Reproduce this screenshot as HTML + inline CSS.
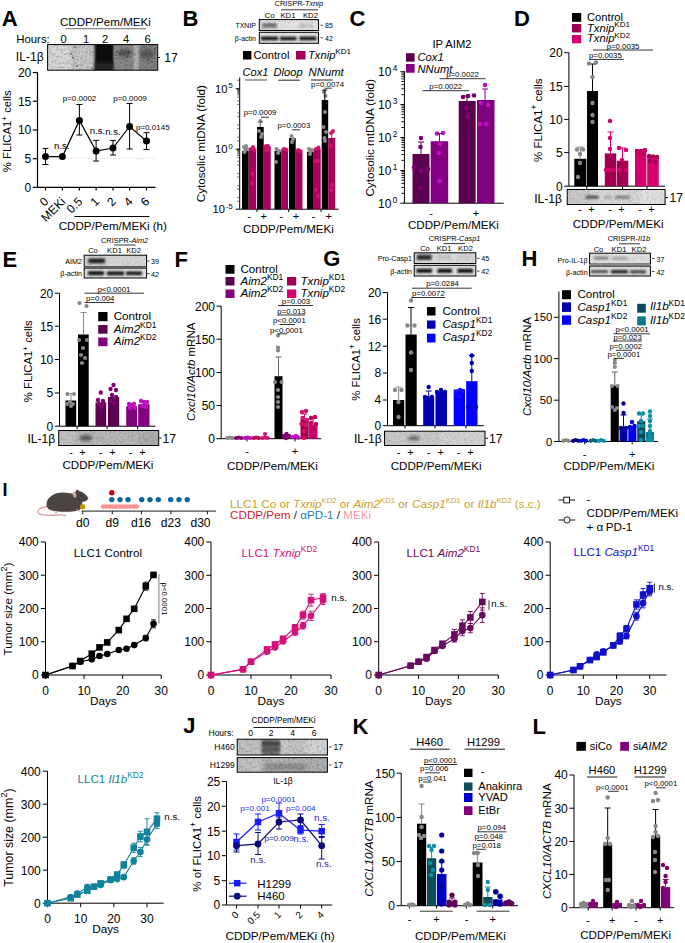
<!DOCTYPE html>
<html><head><meta charset="utf-8"><style>
html,body{margin:0;padding:0;background:#fff;width:685px;height:943px;overflow:hidden}
svg{display:block;font-family:"Liberation Sans", sans-serif}
</style></head><body>
<svg width="685" height="943" viewBox="0 0 685 943">
<defs><filter id="bl" x="-50%" y="-50%" width="200%" height="200%"><feGaussianBlur stdDeviation="1.6"/></filter>
<filter id="bl2" x="-50%" y="-50%" width="200%" height="200%"><feGaussianBlur stdDeviation="0.8"/></filter>
<filter id="nz" x="0" y="0" width="100%" height="100%"><feTurbulence type="fractalNoise" baseFrequency="0.45" numOctaves="2" seed="7"/><feColorMatrix type="matrix" values="0 0 0 0 0  0 0 0 0 0  0 0 0 0 0  0 0 0 -3 1.6"/></filter></defs>
<rect width="685" height="943" fill="#fff"/>
<text x="1.75" y="26.20" font-size="22" font-weight="bold">A</text>
<text x="60.00" y="25.70" font-size="11.6">CDDP/Pem/MEKi</text>
<line x1="65.50" y1="28.70" x2="146.00" y2="28.70" stroke="#888" stroke-width="1.3"/>
<text x="16.20" y="42.50" font-size="11.4">Hours:</text>
<text x="63.70" y="42.50" font-size="11.2" text-anchor="middle">0</text>
<text x="86.00" y="42.50" font-size="11.2" text-anchor="middle">1</text>
<text x="105.00" y="42.50" font-size="11.2" text-anchor="middle">2</text>
<text x="126.00" y="42.50" font-size="11.2" text-anchor="middle">4</text>
<text x="147.50" y="42.50" font-size="11.2" text-anchor="middle">6</text>
<svg x="47.60" y="44.60" width="110.10" height="25.60" overflow="hidden">
<rect x="0.00" y="0.00" width="110.10" height="25.60" fill="#d6d6d6"/>
<rect x="24.70" y="-0.60" width="22.20" height="27.00" fill="#c6c6c6" opacity="1" filter="url(#bl2)"/>
<rect x="46.90" y="-1.60" width="19.70" height="29.00" fill="#111" opacity="1" filter="url(#bl2)"/>
<rect x="66.60" y="-1.60" width="20.50" height="29.00" fill="#888" opacity="1" filter="url(#bl2)"/>
<rect x="90.40" y="-1.60" width="20.00" height="29.00" fill="#808080" opacity="1" filter="url(#bl2)"/>
<rect x="87.10" y="-1.60" width="3.30" height="29.00" fill="#aaa" opacity="1" filter="url(#bl2)"/>
<rect x="24.40" y="-1.60" width="1.50" height="29.00" fill="#aaa" opacity="0.6" filter="url(#bl2)"/>
<rect x="46.90" y="17.40" width="19.70" height="10.00" fill="#333" opacity="0.6" filter="url(#bl2)"/>
<ellipse cx="77.40" cy="8.40" rx="7.00" ry="4.00" fill="#333" opacity="0.6" filter="url(#bl)"/>
<ellipse cx="99.40" cy="9.40" rx="7.00" ry="5.00" fill="#333" opacity="0.5" filter="url(#bl)"/>
<rect width="110.10" height="25.60" filter="url(#nz)" opacity="0.22"/>
</svg>
<rect x="47.60" y="44.60" width="110.10" height="25.60" fill="none" stroke="#000" stroke-width="1"/>
<circle cx="75.00" cy="47.00" r="0.7" fill="#222"/>
<circle cx="71.00" cy="54.00" r="0.7" fill="#222"/>
<circle cx="73.00" cy="58.00" r="0.7" fill="#222"/>
<circle cx="77.00" cy="66.00" r="0.7" fill="#222"/>
<circle cx="92.00" cy="68.00" r="0.7" fill="#222"/>
<circle cx="116.00" cy="52.00" r="0.7" fill="#222"/>
<circle cx="116.00" cy="55.00" r="0.7" fill="#222"/>
<circle cx="120.00" cy="54.00" r="0.7" fill="#222"/>
<circle cx="129.00" cy="52.00" r="0.7" fill="#222"/>
<circle cx="127.00" cy="57.00" r="0.7" fill="#222"/>
<circle cx="144.00" cy="47.00" r="0.7" fill="#222"/>
<circle cx="148.00" cy="60.00" r="0.7" fill="#222"/>
<circle cx="152.00" cy="62.00" r="0.7" fill="#222"/>
<circle cx="155.00" cy="49.00" r="0.7" fill="#222"/>
<text x="15.80" y="60.60" font-size="12.1">IL-1β</text>
<line x1="157.60" y1="57.50" x2="160.00" y2="57.50" stroke="#000" stroke-width="1"/>
<text x="164.30" y="61.80" font-size="12.2">17</text>
<line x1="37.50" y1="72.50" x2="37.50" y2="187.30" stroke="#000" stroke-width="1.2"/>
<line x1="32.80" y1="72.50" x2="37.50" y2="72.50" stroke="#000" stroke-width="1.2"/>
<text x="31.30" y="76.82" font-size="12" text-anchor="end">20</text>
<line x1="32.80" y1="101.20" x2="37.50" y2="101.20" stroke="#000" stroke-width="1.2"/>
<text x="31.30" y="105.52" font-size="12" text-anchor="end">15</text>
<line x1="32.80" y1="130.00" x2="37.50" y2="130.00" stroke="#000" stroke-width="1.2"/>
<text x="31.30" y="134.32" font-size="12" text-anchor="end">10</text>
<line x1="32.80" y1="158.70" x2="37.50" y2="158.70" stroke="#000" stroke-width="1.2"/>
<text x="31.30" y="163.02" font-size="12" text-anchor="end">5</text>
<line x1="32.80" y1="187.30" x2="37.50" y2="187.30" stroke="#000" stroke-width="1.2"/>
<text x="31.30" y="191.62" font-size="12" text-anchor="end">0</text>
<line x1="37.50" y1="187.30" x2="155.50" y2="187.30" stroke="#000" stroke-width="1.2"/>
<line x1="45.50" y1="187.30" x2="45.50" y2="190.50" stroke="#000" stroke-width="1.2"/>
<line x1="62.40" y1="187.30" x2="62.40" y2="190.50" stroke="#000" stroke-width="1.2"/>
<line x1="79.40" y1="187.30" x2="79.40" y2="190.50" stroke="#000" stroke-width="1.2"/>
<line x1="96.10" y1="187.30" x2="96.10" y2="190.50" stroke="#000" stroke-width="1.2"/>
<line x1="113.00" y1="187.30" x2="113.00" y2="190.50" stroke="#000" stroke-width="1.2"/>
<line x1="129.60" y1="187.30" x2="129.60" y2="190.50" stroke="#000" stroke-width="1.2"/>
<line x1="146.50" y1="187.30" x2="146.50" y2="190.50" stroke="#000" stroke-width="1.2"/>
<line x1="37.50" y1="158.70" x2="155.00" y2="158.70" stroke="#bbb" stroke-width="0.8" stroke-dasharray="1 2"/>
<polyline points="45.5,156.6 62.4,156.6 79.4,120.4 96.1,151 113,148 129.6,126.5 146.5,141" fill="none" stroke="#000" stroke-width="1.2"/>
<line x1="45.50" y1="148.40" x2="45.50" y2="164.50" stroke="#000" stroke-width="1"/>
<line x1="42.50" y1="148.40" x2="48.50" y2="148.40" stroke="#000" stroke-width="1"/>
<line x1="42.50" y1="164.50" x2="48.50" y2="164.50" stroke="#000" stroke-width="1"/>
<line x1="79.40" y1="104.50" x2="79.40" y2="135.00" stroke="#000" stroke-width="1"/>
<line x1="76.40" y1="104.50" x2="82.40" y2="104.50" stroke="#000" stroke-width="1"/>
<line x1="76.40" y1="135.00" x2="82.40" y2="135.00" stroke="#000" stroke-width="1"/>
<line x1="96.10" y1="140.40" x2="96.10" y2="161.00" stroke="#000" stroke-width="1"/>
<line x1="93.10" y1="140.40" x2="99.10" y2="140.40" stroke="#000" stroke-width="1"/>
<line x1="93.10" y1="161.00" x2="99.10" y2="161.00" stroke="#000" stroke-width="1"/>
<line x1="113.00" y1="140.40" x2="113.00" y2="155.00" stroke="#000" stroke-width="1"/>
<line x1="110.00" y1="140.40" x2="116.00" y2="140.40" stroke="#000" stroke-width="1"/>
<line x1="110.00" y1="155.00" x2="116.00" y2="155.00" stroke="#000" stroke-width="1"/>
<line x1="129.60" y1="103.50" x2="129.60" y2="149.00" stroke="#000" stroke-width="1"/>
<line x1="126.60" y1="103.50" x2="132.60" y2="103.50" stroke="#000" stroke-width="1"/>
<line x1="126.60" y1="149.00" x2="132.60" y2="149.00" stroke="#000" stroke-width="1"/>
<line x1="146.50" y1="132.70" x2="146.50" y2="149.50" stroke="#000" stroke-width="1"/>
<line x1="143.50" y1="132.70" x2="149.50" y2="132.70" stroke="#000" stroke-width="1"/>
<line x1="143.50" y1="149.50" x2="149.50" y2="149.50" stroke="#000" stroke-width="1"/>
<circle cx="45.50" cy="156.60" r="3.5" fill="#000"/>
<circle cx="62.40" cy="156.60" r="3.5" fill="#000"/>
<circle cx="79.40" cy="120.40" r="3.5" fill="#000"/>
<circle cx="96.10" cy="151.00" r="3.5" fill="#000"/>
<circle cx="113.00" cy="148.00" r="3.5" fill="#000"/>
<circle cx="129.60" cy="126.50" r="3.5" fill="#000"/>
<circle cx="146.50" cy="141.00" r="3.5" fill="#000"/>
<text x="61.80" y="148.50" font-size="9.6" text-anchor="middle">n.s.</text>
<text x="97.50" y="133.80" font-size="9.6" text-anchor="middle">n.s.</text>
<text x="113.00" y="135.40" font-size="9.6" text-anchor="middle">n.s.</text>
<text x="79.50" y="101.00" font-size="8" text-anchor="middle">p=0.0002</text>
<text x="130.00" y="100.70" font-size="8" text-anchor="middle">p=0.0009</text>
<text x="136.00" y="130.00" font-size="8">p=0.0145</text>
<text x="49.30" y="202.30" font-size="12" text-anchor="end" transform="rotate(-45 49.30 202.30)">0</text>
<text x="66.20" y="202.30" font-size="12" text-anchor="end" transform="rotate(-45 66.20 202.30)">MEKi</text>
<text x="83.20" y="202.30" font-size="12" text-anchor="end" transform="rotate(-45 83.20 202.30)">0.5</text>
<text x="99.90" y="202.30" font-size="12" text-anchor="end" transform="rotate(-45 99.90 202.30)">1</text>
<text x="116.80" y="202.30" font-size="12" text-anchor="end" transform="rotate(-45 116.80 202.30)">2</text>
<text x="133.40" y="202.30" font-size="12" text-anchor="end" transform="rotate(-45 133.40 202.30)">4</text>
<text x="150.30" y="202.30" font-size="12" text-anchor="end" transform="rotate(-45 150.30 202.30)">6</text>
<line x1="74.40" y1="216.50" x2="149.30" y2="216.50" stroke="#000" stroke-width="1"/>
<text x="58.70" y="230.00" font-size="11.6">CDDP/Pem/MEKi (h)</text>
<text x="11.50" y="131.20" font-size="11.3" text-anchor="middle" transform="rotate(-90 11.50 131.20)">% FLICA1<tspan font-size="8.1" dy="-4.75">+</tspan><tspan dy="4.7"> cells</tspan></text>
<text x="182.40" y="26.30" font-size="22" font-weight="bold">B</text>
<text x="274.60" y="5.80" font-size="7.4">CRISPR-<tspan font-style="italic">Txnip</tspan></text>
<line x1="281.00" y1="9.80" x2="318.00" y2="9.80" stroke="#000" stroke-width="0.8"/>
<text x="269.60" y="17.50" font-size="7.8" text-anchor="middle">Co</text>
<text x="288.00" y="17.50" font-size="7.8" text-anchor="middle">KD1</text>
<text x="310.50" y="17.50" font-size="7.8" text-anchor="middle">KD2</text>
<svg x="259.30" y="19.60" width="59.20" height="10.90" overflow="hidden">
<rect x="0.00" y="0.00" width="59.20" height="10.90" fill="#e2e2e2"/>
<rect x="2.70" y="3.40" width="15.00" height="5.00" fill="#666" opacity="0.85" filter="url(#bl2)"/>
<rect x="39.70" y="3.90" width="14.00" height="4.00" fill="#bbb" opacity="0.8" filter="url(#bl2)"/>
<rect x="-0.30" y="-0.60" width="3.00" height="12.00" fill="#d0d0d0" opacity="0.6" filter="url(#bl2)"/>
<rect width="59.20" height="10.90" filter="url(#nz)" opacity="0.1"/>
</svg>
<rect x="259.30" y="19.60" width="59.20" height="10.90" fill="none" stroke="#000" stroke-width="1"/>
<svg x="259.30" y="32.30" width="59.20" height="11.00" overflow="hidden">
<rect x="0.00" y="0.00" width="59.20" height="11.00" fill="#e4e4e4"/>
<rect x="1.70" y="4.30" width="17.00" height="3.60" fill="#111" opacity="1" filter="url(#bl2)"/>
<rect x="20.70" y="4.50" width="16.50" height="3.40" fill="#111" opacity="1" filter="url(#bl2)"/>
<rect x="40.20" y="4.30" width="17.00" height="3.60" fill="#111" opacity="1" filter="url(#bl2)"/>
<rect width="59.20" height="11.00" filter="url(#nz)" opacity="0.08"/>
</svg>
<rect x="259.30" y="32.30" width="59.20" height="11.00" fill="none" stroke="#000" stroke-width="1"/>
<text x="256.00" y="28.00" font-size="7" text-anchor="end">TXNIP</text>
<text x="256.00" y="40.50" font-size="7" text-anchor="end">β-actin</text>
<line x1="320.50" y1="25.20" x2="323.00" y2="25.20" stroke="#000" stroke-width="0.7"/>
<text x="325.00" y="28.00" font-size="7">85</text>
<line x1="320.50" y1="37.70" x2="323.00" y2="37.70" stroke="#000" stroke-width="0.7"/>
<text x="325.00" y="40.50" font-size="7">42</text>
<rect x="243.00" y="51.00" width="8.40" height="8.50" fill="#000"/>
<text x="253.40" y="59.00" font-size="11.2">Control</text>
<rect x="296.00" y="51.00" width="9.50" height="8.50" fill="#a8005a"/>
<text x="308.00" y="59.00" font-size="11.2"><tspan font-style="italic">Txnip</tspan><tspan font-size="8.1" dy="-4.70">KD1</tspan></text>
<text x="242.60" y="76.30" font-size="11.1"><tspan font-style="italic">Cox1</tspan></text>
<line x1="245.10" y1="80.00" x2="267.00" y2="80.00" stroke="#777" stroke-width="1.3"/>
<text x="273.60" y="76.30" font-size="11.1"><tspan font-style="italic">Dloop</tspan></text>
<line x1="278.30" y1="80.20" x2="299.80" y2="80.20" stroke="#333" stroke-width="1.1"/>
<text x="308.60" y="76.20" font-size="11.3"><tspan font-style="italic">NNumt</tspan></text>
<line x1="311.00" y1="80.00" x2="332.80" y2="80.00" stroke="#333" stroke-width="1.1"/>
<line x1="239.70" y1="77.50" x2="239.70" y2="209.20" stroke="#000" stroke-width="1"/>
<line x1="235.70" y1="88.70" x2="239.70" y2="88.70" stroke="#000" stroke-width="1"/>
<text x="232.70" y="92.70" font-size="11.2" text-anchor="end">10<tspan font-size="7.6" dx="1" dy="-4.6">5</tspan></text>
<line x1="235.70" y1="149.20" x2="239.70" y2="149.20" stroke="#000" stroke-width="1"/>
<text x="232.70" y="153.20" font-size="11.2" text-anchor="end">10<tspan font-size="7.6" dx="1" dy="-4.6">0</tspan></text>
<line x1="235.70" y1="209.20" x2="239.70" y2="209.20" stroke="#000" stroke-width="1"/>
<text x="232.70" y="213.20" font-size="11.2" text-anchor="end">10<tspan font-size="7.6" dx="1" dy="-4.6">-5</tspan></text>
<line x1="237.20" y1="201.24" x2="239.70" y2="201.24" stroke="#333" stroke-width="0.7"/>
<line x1="237.20" y1="197.60" x2="239.70" y2="197.60" stroke="#333" stroke-width="0.7"/>
<line x1="237.20" y1="189.14" x2="239.70" y2="189.14" stroke="#333" stroke-width="0.7"/>
<line x1="237.20" y1="185.50" x2="239.70" y2="185.50" stroke="#333" stroke-width="0.7"/>
<line x1="237.20" y1="177.04" x2="239.70" y2="177.04" stroke="#333" stroke-width="0.7"/>
<line x1="237.20" y1="173.40" x2="239.70" y2="173.40" stroke="#333" stroke-width="0.7"/>
<line x1="237.20" y1="164.94" x2="239.70" y2="164.94" stroke="#333" stroke-width="0.7"/>
<line x1="237.20" y1="161.30" x2="239.70" y2="161.30" stroke="#333" stroke-width="0.7"/>
<line x1="237.20" y1="157.66" x2="239.70" y2="157.66" stroke="#333" stroke-width="0.7"/>
<line x1="237.20" y1="155.53" x2="239.70" y2="155.53" stroke="#333" stroke-width="0.7"/>
<line x1="237.20" y1="154.02" x2="239.70" y2="154.02" stroke="#333" stroke-width="0.7"/>
<line x1="237.20" y1="152.84" x2="239.70" y2="152.84" stroke="#333" stroke-width="0.7"/>
<line x1="237.20" y1="151.88" x2="239.70" y2="151.88" stroke="#333" stroke-width="0.7"/>
<line x1="237.20" y1="151.07" x2="239.70" y2="151.07" stroke="#333" stroke-width="0.7"/>
<line x1="237.20" y1="150.37" x2="239.70" y2="150.37" stroke="#333" stroke-width="0.7"/>
<line x1="237.20" y1="149.75" x2="239.70" y2="149.75" stroke="#333" stroke-width="0.7"/>
<line x1="237.20" y1="149.20" x2="239.70" y2="149.20" stroke="#333" stroke-width="0.7"/>
<line x1="237.20" y1="140.74" x2="239.70" y2="140.74" stroke="#333" stroke-width="0.7"/>
<line x1="237.20" y1="137.10" x2="239.70" y2="137.10" stroke="#333" stroke-width="0.7"/>
<line x1="237.20" y1="128.64" x2="239.70" y2="128.64" stroke="#333" stroke-width="0.7"/>
<line x1="237.20" y1="125.00" x2="239.70" y2="125.00" stroke="#333" stroke-width="0.7"/>
<line x1="237.20" y1="116.54" x2="239.70" y2="116.54" stroke="#333" stroke-width="0.7"/>
<line x1="237.20" y1="112.90" x2="239.70" y2="112.90" stroke="#333" stroke-width="0.7"/>
<line x1="237.20" y1="104.44" x2="239.70" y2="104.44" stroke="#333" stroke-width="0.7"/>
<line x1="237.20" y1="100.80" x2="239.70" y2="100.80" stroke="#333" stroke-width="0.7"/>
<line x1="237.20" y1="97.16" x2="239.70" y2="97.16" stroke="#333" stroke-width="0.7"/>
<line x1="237.20" y1="95.03" x2="239.70" y2="95.03" stroke="#333" stroke-width="0.7"/>
<line x1="237.20" y1="93.52" x2="239.70" y2="93.52" stroke="#333" stroke-width="0.7"/>
<line x1="237.20" y1="92.34" x2="239.70" y2="92.34" stroke="#333" stroke-width="0.7"/>
<line x1="237.20" y1="91.38" x2="239.70" y2="91.38" stroke="#333" stroke-width="0.7"/>
<line x1="237.20" y1="90.57" x2="239.70" y2="90.57" stroke="#333" stroke-width="0.7"/>
<line x1="237.20" y1="89.87" x2="239.70" y2="89.87" stroke="#333" stroke-width="0.7"/>
<line x1="237.20" y1="89.25" x2="239.70" y2="89.25" stroke="#333" stroke-width="0.7"/>
<line x1="237.20" y1="88.70" x2="239.70" y2="88.70" stroke="#333" stroke-width="0.7"/>
<line x1="237.20" y1="80.24" x2="239.70" y2="80.24" stroke="#333" stroke-width="0.7"/>
<line x1="239.70" y1="209.20" x2="338.70" y2="209.20" stroke="#000" stroke-width="1"/>
<line x1="257.00" y1="209.20" x2="257.00" y2="212.00" stroke="#000" stroke-width="1"/>
<line x1="288.70" y1="209.20" x2="288.70" y2="212.00" stroke="#000" stroke-width="1"/>
<line x1="321.00" y1="209.20" x2="321.00" y2="212.00" stroke="#000" stroke-width="1"/>
<rect x="242.00" y="151.00" width="6.70" height="58.20" fill="#000"/>
<rect x="248.70" y="148.70" width="7.50" height="60.50" fill="#a8005a"/>
<rect x="257.00" y="127.00" width="6.70" height="82.20" fill="#000"/>
<rect x="263.70" y="146.00" width="7.00" height="63.20" fill="#a8005a"/>
<rect x="274.50" y="151.00" width="6.70" height="58.20" fill="#000"/>
<rect x="281.20" y="148.70" width="6.80" height="60.50" fill="#a8005a"/>
<rect x="289.00" y="138.00" width="6.70" height="71.20" fill="#000"/>
<rect x="295.70" y="150.00" width="6.80" height="59.20" fill="#a8005a"/>
<rect x="307.00" y="151.70" width="6.70" height="57.50" fill="#000"/>
<rect x="313.70" y="148.70" width="7.00" height="60.50" fill="#a8005a"/>
<rect x="321.70" y="100.00" width="6.50" height="109.20" fill="#000"/>
<rect x="328.20" y="138.00" width="7.00" height="71.20" fill="#a8005a"/>
<circle cx="244.00" cy="147.00" r="2" fill="#8a8a8a"/>
<circle cx="245.50" cy="150.00" r="2" fill="#8a8a8a"/>
<circle cx="247.00" cy="149.00" r="2" fill="#8a8a8a"/>
<circle cx="244.50" cy="152.00" r="2" fill="#8a8a8a"/>
<circle cx="246.00" cy="146.00" r="2" fill="#8a8a8a"/>
<circle cx="251.00" cy="149.00" r="2" fill="#d0106a"/>
<circle cx="253.00" cy="147.00" r="2" fill="#d0106a"/>
<circle cx="252.50" cy="174.00" r="2" fill="#d0106a"/>
<circle cx="252.00" cy="183.00" r="2" fill="#d0106a"/>
<circle cx="254.50" cy="150.00" r="2" fill="#d0106a"/>
<circle cx="260.50" cy="121.00" r="2" fill="#8a8a8a"/>
<circle cx="259.00" cy="131.00" r="2" fill="#8a8a8a"/>
<circle cx="262.00" cy="134.00" r="2" fill="#8a8a8a"/>
<circle cx="261.00" cy="137.00" r="2" fill="#8a8a8a"/>
<line x1="260.30" y1="127.00" x2="260.30" y2="122.00" stroke="#555" stroke-width="1"/>
<line x1="257.80" y1="122.00" x2="262.80" y2="122.00" stroke="#555" stroke-width="1"/>
<circle cx="266.00" cy="146.00" r="2" fill="#d0106a"/>
<circle cx="268.00" cy="146.00" r="2" fill="#d0106a"/>
<circle cx="266.00" cy="150.00" r="2" fill="#d0106a"/>
<circle cx="268.00" cy="150.00" r="2" fill="#d0106a"/>
<circle cx="276.50" cy="149.00" r="2" fill="#8a8a8a"/>
<circle cx="278.00" cy="153.00" r="2" fill="#8a8a8a"/>
<circle cx="276.00" cy="162.00" r="2" fill="#8a8a8a"/>
<circle cx="279.00" cy="151.00" r="2" fill="#8a8a8a"/>
<circle cx="284.00" cy="149.00" r="2" fill="#d0106a"/>
<circle cx="285.50" cy="149.50" r="2" fill="#d0106a"/>
<circle cx="286.50" cy="150.00" r="2" fill="#d0106a"/>
<circle cx="291.50" cy="136.00" r="2" fill="#8a8a8a"/>
<circle cx="293.00" cy="139.00" r="2" fill="#8a8a8a"/>
<circle cx="292.00" cy="142.00" r="2" fill="#8a8a8a"/>
<circle cx="298.00" cy="150.00" r="2" fill="#d0106a"/>
<circle cx="300.00" cy="151.00" r="2" fill="#d0106a"/>
<circle cx="309.00" cy="149.00" r="2" fill="#8a8a8a"/>
<circle cx="311.00" cy="151.00" r="2" fill="#8a8a8a"/>
<circle cx="310.00" cy="154.00" r="2" fill="#8a8a8a"/>
<circle cx="312.00" cy="150.00" r="2" fill="#8a8a8a"/>
<circle cx="316.00" cy="149.00" r="2" fill="#d0106a"/>
<circle cx="318.50" cy="147.50" r="2" fill="#d0106a"/>
<circle cx="315.50" cy="161.00" r="2" fill="#d0106a"/>
<circle cx="318.00" cy="161.00" r="2" fill="#d0106a"/>
<circle cx="316.00" cy="190.00" r="2" fill="#d0106a"/>
<circle cx="318.00" cy="196.00" r="2" fill="#d0106a"/>
<circle cx="324.00" cy="92.00" r="2" fill="#8a8a8a"/>
<circle cx="325.50" cy="96.00" r="2" fill="#8a8a8a"/>
<circle cx="325.00" cy="112.00" r="2" fill="#8a8a8a"/>
<circle cx="323.50" cy="127.00" r="2" fill="#8a8a8a"/>
<circle cx="326.00" cy="132.00" r="2" fill="#8a8a8a"/>
<circle cx="324.50" cy="138.00" r="2" fill="#8a8a8a"/>
<circle cx="325.00" cy="141.00" r="2" fill="#8a8a8a"/>
<line x1="324.80" y1="100.00" x2="324.80" y2="90.00" stroke="#000" stroke-width="1"/>
<line x1="322.30" y1="90.00" x2="327.30" y2="90.00" stroke="#000" stroke-width="1"/>
<circle cx="331.00" cy="133.00" r="2" fill="#d0106a"/>
<circle cx="333.00" cy="131.00" r="2" fill="#d0106a"/>
<circle cx="331.00" cy="146.00" r="2" fill="#d0106a"/>
<circle cx="332.00" cy="185.00" r="2" fill="#d0106a"/>
<circle cx="331.50" cy="190.00" r="2" fill="#d0106a"/>
<line x1="331.70" y1="138.00" x2="331.70" y2="133.00" stroke="#d0106a" stroke-width="1"/>
<line x1="329.20" y1="133.00" x2="334.20" y2="133.00" stroke="#d0106a" stroke-width="1"/>
<text x="243.70" y="115.00" font-size="7.8">p=0.0009</text>
<line x1="261.00" y1="117.30" x2="269.00" y2="117.30" stroke="#000" stroke-width="0.8"/>
<text x="277.50" y="127.50" font-size="7.8">p=0.0003</text>
<line x1="292.00" y1="129.80" x2="300.00" y2="129.80" stroke="#000" stroke-width="0.8"/>
<text x="311.00" y="86.60" font-size="7.9">p=0.0074</text>
<line x1="324.50" y1="88.20" x2="331.80" y2="88.20" stroke="#000" stroke-width="0.8"/>
<text x="249.00" y="220.20" font-size="11" text-anchor="middle">-</text>
<text x="263.70" y="220.20" font-size="11" text-anchor="middle">+</text>
<text x="281.00" y="220.20" font-size="11" text-anchor="middle">-</text>
<text x="296.00" y="220.20" font-size="11" text-anchor="middle">+</text>
<text x="313.70" y="220.20" font-size="11" text-anchor="middle">-</text>
<text x="328.70" y="220.20" font-size="11" text-anchor="middle">+</text>
<text x="243.00" y="232.50" font-size="11.6">CDDP/Pem/MEKi</text>
<text x="205.00" y="143.70" font-size="11.65" text-anchor="middle" transform="rotate(-90 205.00 143.70)">Cytosolic mtDNA (fold)</text>
<text x="349.50" y="26.30" font-size="22" font-weight="bold">C</text>
<text x="432.50" y="47.50" font-size="11.2">IP AIM2</text>
<rect x="406.00" y="53.20" width="8.60" height="8.50" fill="#5c0050"/>
<text x="417.50" y="60.70" font-size="11.2"><tspan font-style="italic">Cox1</tspan></text>
<rect x="406.00" y="64.00" width="8.60" height="8.70" fill="#800080"/>
<text x="417.50" y="72.50" font-size="11.2"><tspan font-style="italic">NNumt</tspan></text>
<line x1="404.40" y1="71.00" x2="404.40" y2="203.20" stroke="#000" stroke-width="1"/>
<line x1="400.40" y1="71.70" x2="404.40" y2="71.70" stroke="#000" stroke-width="1"/>
<text x="397.40" y="76.00" font-size="12" text-anchor="end">10<tspan font-size="8.3" dx="1.3" dy="-5">4</tspan></text>
<line x1="400.40" y1="104.50" x2="404.40" y2="104.50" stroke="#000" stroke-width="1"/>
<text x="397.40" y="108.80" font-size="12" text-anchor="end">10<tspan font-size="8.3" dx="1.3" dy="-5">3</tspan></text>
<line x1="400.40" y1="137.50" x2="404.40" y2="137.50" stroke="#000" stroke-width="1"/>
<text x="397.40" y="141.80" font-size="12" text-anchor="end">10<tspan font-size="8.3" dx="1.3" dy="-5">2</tspan></text>
<line x1="400.40" y1="170.50" x2="404.40" y2="170.50" stroke="#000" stroke-width="1"/>
<text x="397.40" y="174.80" font-size="12" text-anchor="end">10<tspan font-size="8.3" dx="1.3" dy="-5">1</tspan></text>
<line x1="400.40" y1="203.20" x2="404.40" y2="203.20" stroke="#000" stroke-width="1"/>
<text x="397.40" y="207.50" font-size="12" text-anchor="end">10<tspan font-size="8.3" dx="1.3" dy="-5">0</tspan></text>
<line x1="401.40" y1="193.30" x2="404.40" y2="193.30" stroke="#000" stroke-width="0.9"/>
<line x1="401.40" y1="187.50" x2="404.40" y2="187.50" stroke="#000" stroke-width="0.9"/>
<line x1="401.40" y1="183.39" x2="404.40" y2="183.39" stroke="#000" stroke-width="0.9"/>
<line x1="401.40" y1="180.20" x2="404.40" y2="180.20" stroke="#000" stroke-width="0.9"/>
<line x1="401.40" y1="177.60" x2="404.40" y2="177.60" stroke="#000" stroke-width="0.9"/>
<line x1="401.40" y1="175.40" x2="404.40" y2="175.40" stroke="#000" stroke-width="0.9"/>
<line x1="401.40" y1="173.49" x2="404.40" y2="173.49" stroke="#000" stroke-width="0.9"/>
<line x1="401.40" y1="171.81" x2="404.40" y2="171.81" stroke="#000" stroke-width="0.9"/>
<line x1="401.40" y1="160.40" x2="404.40" y2="160.40" stroke="#000" stroke-width="0.9"/>
<line x1="401.40" y1="154.60" x2="404.40" y2="154.60" stroke="#000" stroke-width="0.9"/>
<line x1="401.40" y1="150.49" x2="404.40" y2="150.49" stroke="#000" stroke-width="0.9"/>
<line x1="401.40" y1="147.30" x2="404.40" y2="147.30" stroke="#000" stroke-width="0.9"/>
<line x1="401.40" y1="144.70" x2="404.40" y2="144.70" stroke="#000" stroke-width="0.9"/>
<line x1="401.40" y1="142.50" x2="404.40" y2="142.50" stroke="#000" stroke-width="0.9"/>
<line x1="401.40" y1="140.59" x2="404.40" y2="140.59" stroke="#000" stroke-width="0.9"/>
<line x1="401.40" y1="138.91" x2="404.40" y2="138.91" stroke="#000" stroke-width="0.9"/>
<line x1="401.40" y1="127.50" x2="404.40" y2="127.50" stroke="#000" stroke-width="0.9"/>
<line x1="401.40" y1="121.70" x2="404.40" y2="121.70" stroke="#000" stroke-width="0.9"/>
<line x1="401.40" y1="117.59" x2="404.40" y2="117.59" stroke="#000" stroke-width="0.9"/>
<line x1="401.40" y1="114.40" x2="404.40" y2="114.40" stroke="#000" stroke-width="0.9"/>
<line x1="401.40" y1="111.80" x2="404.40" y2="111.80" stroke="#000" stroke-width="0.9"/>
<line x1="401.40" y1="109.60" x2="404.40" y2="109.60" stroke="#000" stroke-width="0.9"/>
<line x1="401.40" y1="107.69" x2="404.40" y2="107.69" stroke="#000" stroke-width="0.9"/>
<line x1="401.40" y1="106.01" x2="404.40" y2="106.01" stroke="#000" stroke-width="0.9"/>
<line x1="401.40" y1="94.60" x2="404.40" y2="94.60" stroke="#000" stroke-width="0.9"/>
<line x1="401.40" y1="88.80" x2="404.40" y2="88.80" stroke="#000" stroke-width="0.9"/>
<line x1="401.40" y1="84.69" x2="404.40" y2="84.69" stroke="#000" stroke-width="0.9"/>
<line x1="401.40" y1="81.50" x2="404.40" y2="81.50" stroke="#000" stroke-width="0.9"/>
<line x1="401.40" y1="78.90" x2="404.40" y2="78.90" stroke="#000" stroke-width="0.9"/>
<line x1="401.40" y1="76.70" x2="404.40" y2="76.70" stroke="#000" stroke-width="0.9"/>
<line x1="401.40" y1="74.79" x2="404.40" y2="74.79" stroke="#000" stroke-width="0.9"/>
<line x1="401.40" y1="73.11" x2="404.40" y2="73.11" stroke="#000" stroke-width="0.9"/>
<line x1="404.40" y1="203.20" x2="503.70" y2="203.20" stroke="#000" stroke-width="1"/>
<rect x="412.50" y="154.00" width="17.00" height="49.20" fill="#5c0050"/>
<rect x="430.70" y="141.20" width="17.50" height="62.00" fill="#800080"/>
<rect x="458.70" y="101.00" width="17.00" height="102.20" fill="#5c0050"/>
<rect x="477.00" y="100.00" width="17.50" height="103.20" fill="#800080"/>
<circle cx="421.00" cy="138.00" r="2.3" fill="#800070"/>
<circle cx="420.50" cy="147.00" r="2.3" fill="#800070"/>
<circle cx="414.00" cy="167.50" r="2.3" fill="#800070"/>
<circle cx="421.00" cy="171.00" r="2.3" fill="#800070"/>
<circle cx="428.00" cy="169.00" r="2.3" fill="#800070"/>
<circle cx="420.00" cy="188.00" r="2.3" fill="#800070"/>
<line x1="421.00" y1="154.00" x2="421.00" y2="142.00" stroke="#5c0050" stroke-width="1"/>
<line x1="418.00" y1="142.00" x2="424.00" y2="142.00" stroke="#5c0050" stroke-width="1"/>
<circle cx="437.00" cy="133.50" r="2.3" fill="#c010c0"/>
<circle cx="443.00" cy="133.00" r="2.3" fill="#c010c0"/>
<circle cx="440.00" cy="144.00" r="2.3" fill="#c010c0"/>
<circle cx="439.00" cy="153.00" r="2.3" fill="#c010c0"/>
<circle cx="439.50" cy="181.00" r="2.3" fill="#c010c0"/>
<line x1="439.50" y1="141.20" x2="439.50" y2="133.50" stroke="#800080" stroke-width="1"/>
<line x1="436.50" y1="133.50" x2="442.50" y2="133.50" stroke="#800080" stroke-width="1"/>
<circle cx="463.00" cy="97.00" r="2.3" fill="#800070"/>
<circle cx="468.00" cy="96.00" r="2.3" fill="#800070"/>
<circle cx="474.00" cy="95.50" r="2.3" fill="#800070"/>
<circle cx="466.00" cy="108.00" r="2.3" fill="#800070"/>
<circle cx="467.00" cy="117.00" r="2.3" fill="#800070"/>
<line x1="467.00" y1="101.00" x2="467.00" y2="96.00" stroke="#5c0050" stroke-width="1"/>
<line x1="464.00" y1="96.00" x2="470.00" y2="96.00" stroke="#5c0050" stroke-width="1"/>
<circle cx="485.00" cy="85.00" r="2.3" fill="#c010c0"/>
<circle cx="481.00" cy="103.00" r="2.3" fill="#c010c0"/>
<circle cx="488.00" cy="105.00" r="2.3" fill="#c010c0"/>
<circle cx="480.00" cy="124.00" r="2.3" fill="#c010c0"/>
<circle cx="486.00" cy="124.00" r="2.3" fill="#c010c0"/>
<line x1="485.00" y1="100.00" x2="485.00" y2="89.00" stroke="#800080" stroke-width="1"/>
<line x1="482.00" y1="89.00" x2="488.00" y2="89.00" stroke="#800080" stroke-width="1"/>
<line x1="422.50" y1="90.70" x2="469.00" y2="90.70" stroke="#000" stroke-width="0.8"/>
<text x="445.70" y="89.00" font-size="7.8" text-anchor="middle">p=0.0022</text>
<line x1="439.50" y1="78.70" x2="485.70" y2="78.70" stroke="#000" stroke-width="0.8"/>
<text x="462.60" y="77.20" font-size="7.8" text-anchor="middle">p=0.0022</text>
<text x="431.00" y="217.20" font-size="11" text-anchor="middle">-</text>
<text x="476.00" y="217.20" font-size="11" text-anchor="middle">+</text>
<text x="408.00" y="228.70" font-size="11.6">CDDP/Pem/MEKi</text>
<text x="374.00" y="137.80" font-size="11.7" text-anchor="middle" transform="rotate(-90 374.00 137.80)">Cytosolic mtDNA (fold)</text>
<text x="513.90" y="26.20" font-size="22" font-weight="bold">D</text>
<rect x="572.00" y="13.00" width="9.20" height="8.80" fill="#000"/>
<text x="587.00" y="20.80" font-size="11.2">Control</text>
<rect x="572.00" y="24.00" width="9.20" height="8.40" fill="#a0004f"/>
<text x="587.00" y="31.90" font-size="11.2"><tspan font-style="italic">Txnip</tspan><tspan font-size="8.1" dy="-4.70">KD1</tspan></text>
<rect x="572.00" y="35.00" width="9.20" height="8.30" fill="#d6006e"/>
<text x="587.00" y="42.40" font-size="11.2"><tspan font-style="italic">Txnip</tspan><tspan font-size="8.1" dy="-4.70">KD2</tspan></text>
<line x1="568.90" y1="52.70" x2="568.90" y2="186.20" stroke="#000" stroke-width="1"/>
<line x1="564.20" y1="52.70" x2="568.90" y2="52.70" stroke="#000" stroke-width="1"/>
<text x="562.70" y="57.02" font-size="12" text-anchor="end">20</text>
<line x1="564.20" y1="86.40" x2="568.90" y2="86.40" stroke="#000" stroke-width="1"/>
<text x="562.70" y="90.72" font-size="12" text-anchor="end">15</text>
<line x1="564.20" y1="119.40" x2="568.90" y2="119.40" stroke="#000" stroke-width="1"/>
<text x="562.70" y="123.72" font-size="12" text-anchor="end">10</text>
<line x1="564.20" y1="152.60" x2="568.90" y2="152.60" stroke="#000" stroke-width="1"/>
<text x="562.70" y="156.92" font-size="12" text-anchor="end">5</text>
<line x1="564.20" y1="186.20" x2="568.90" y2="186.20" stroke="#000" stroke-width="1"/>
<text x="562.70" y="190.52" font-size="12" text-anchor="end">0</text>
<line x1="568.90" y1="186.20" x2="665.00" y2="186.20" stroke="#000" stroke-width="1"/>
<line x1="586.70" y1="186.20" x2="586.70" y2="189.00" stroke="#000" stroke-width="1"/>
<line x1="622.50" y1="186.20" x2="622.50" y2="189.00" stroke="#000" stroke-width="1"/>
<line x1="647.00" y1="186.20" x2="647.00" y2="189.00" stroke="#000" stroke-width="1"/>
<rect x="574.30" y="158.80" width="12.10" height="27.40" fill="#000"/>
<rect x="587.00" y="91.00" width="11.00" height="95.20" fill="#000"/>
<rect x="604.80" y="153.40" width="11.40" height="32.80" fill="#a0004f"/>
<rect x="616.70" y="160.70" width="11.60" height="25.50" fill="#a0004f"/>
<rect x="635.00" y="149.30" width="11.40" height="36.90" fill="#d6006e"/>
<rect x="647.20" y="155.80" width="11.60" height="30.40" fill="#d6006e"/>
<line x1="580.30" y1="158.80" x2="580.30" y2="147.00" stroke="#888" stroke-width="1"/>
<line x1="577.30" y1="147.00" x2="583.30" y2="147.00" stroke="#888" stroke-width="1"/>
<circle cx="577.00" cy="149.50" r="2.2" fill="#888"/>
<circle cx="583.00" cy="149.50" r="2.2" fill="#888"/>
<circle cx="580.00" cy="154.00" r="2.2" fill="#888"/>
<circle cx="580.00" cy="163.00" r="2.2" fill="#888"/>
<circle cx="578.00" cy="177.00" r="2.2" fill="#888"/>
<line x1="592.50" y1="91.00" x2="592.50" y2="64.00" stroke="#000" stroke-width="1"/>
<line x1="589.50" y1="64.00" x2="595.50" y2="64.00" stroke="#000" stroke-width="1"/>
<circle cx="589.00" cy="63.50" r="2.2" fill="#888"/>
<circle cx="596.00" cy="62.50" r="2.2" fill="#888"/>
<circle cx="592.50" cy="77.00" r="2.2" fill="#888"/>
<circle cx="592.50" cy="103.00" r="2.2" fill="#888"/>
<circle cx="592.50" cy="115.00" r="2.2" fill="#888"/>
<circle cx="592.50" cy="122.00" r="2.2" fill="#888"/>
<line x1="610.50" y1="153.40" x2="610.50" y2="132.00" stroke="#d6006e" stroke-width="1"/>
<line x1="607.50" y1="132.00" x2="613.50" y2="132.00" stroke="#d6006e" stroke-width="1"/>
<circle cx="610.00" cy="121.00" r="2.2" fill="#d6006e"/>
<circle cx="610.00" cy="138.00" r="2.2" fill="#d6006e"/>
<circle cx="610.00" cy="149.00" r="2.2" fill="#d6006e"/>
<circle cx="606.00" cy="170.00" r="2.2" fill="#d6006e"/>
<circle cx="610.00" cy="170.00" r="2.2" fill="#d6006e"/>
<circle cx="614.00" cy="170.00" r="2.2" fill="#d6006e"/>
<line x1="622.50" y1="160.70" x2="622.50" y2="148.00" stroke="#d6006e" stroke-width="1"/>
<line x1="619.50" y1="148.00" x2="625.50" y2="148.00" stroke="#d6006e" stroke-width="1"/>
<circle cx="619.00" cy="148.00" r="2.2" fill="#d6006e"/>
<circle cx="626.00" cy="150.00" r="2.2" fill="#d6006e"/>
<circle cx="622.00" cy="160.00" r="2.2" fill="#d6006e"/>
<circle cx="619.00" cy="170.00" r="2.2" fill="#d6006e"/>
<circle cx="626.00" cy="170.00" r="2.2" fill="#d6006e"/>
<circle cx="637.00" cy="151.00" r="2.2" fill="#c0005a"/>
<circle cx="641.00" cy="151.00" r="2.2" fill="#c0005a"/>
<circle cx="645.00" cy="150.00" r="2.2" fill="#c0005a"/>
<circle cx="638.00" cy="155.00" r="2.2" fill="#c0005a"/>
<circle cx="643.00" cy="154.00" r="2.2" fill="#c0005a"/>
<circle cx="649.00" cy="156.00" r="2.2" fill="#a0004f"/>
<circle cx="653.00" cy="156.50" r="2.2" fill="#a0004f"/>
<circle cx="657.00" cy="157.00" r="2.2" fill="#a0004f"/>
<circle cx="650.00" cy="161.00" r="2.2" fill="#a0004f"/>
<circle cx="655.00" cy="162.00" r="2.2" fill="#a0004f"/>
<line x1="589.00" y1="59.40" x2="623.70" y2="59.40" stroke="#000" stroke-width="0.8"/>
<text x="589.00" y="57.80" font-size="7.8">p=0.0035</text>
<line x1="593.00" y1="50.00" x2="653.00" y2="50.00" stroke="#000" stroke-width="0.8"/>
<text x="606.70" y="48.60" font-size="7.8">p=0.0035</text>
<svg x="567.20" y="189.50" width="97.90" height="15.00" overflow="hidden">
<rect x="0.00" y="0.00" width="97.90" height="15.00" fill="#d6d6d6"/>
<rect x="-0.20" y="-0.50" width="23.00" height="16.00" fill="#c8c8c8" opacity="0.9" filter="url(#bl2)"/>
<rect x="72.80" y="-0.50" width="26.00" height="16.00" fill="#e2e2e2" opacity="0.9" filter="url(#bl2)"/>
<rect x="18.50" y="5.80" width="12.80" height="3.70" fill="#555" opacity="0.9" filter="url(#bl2)"/>
<rect x="36.80" y="6.00" width="7.00" height="3.00" fill="#999" opacity="0.7" filter="url(#bl2)"/>
<rect x="47.80" y="6.00" width="15.00" height="3.50" fill="#777" opacity="0.8" filter="url(#bl2)"/>
<rect width="97.90" height="15.00" filter="url(#nz)" opacity="0.12"/>
</svg>
<rect x="567.20" y="189.50" width="97.90" height="15.00" fill="none" stroke="#000" stroke-width="1"/>
<text x="562.00" y="202.50" font-size="12.1" text-anchor="end">IL-1β</text>
<line x1="665.50" y1="197.50" x2="668.00" y2="197.50" stroke="#000" stroke-width="1"/>
<text x="669.50" y="202.30" font-size="12.2">17</text>
<text x="580.00" y="212.70" font-size="11" text-anchor="middle">-</text>
<text x="591.50" y="212.70" font-size="11" text-anchor="middle">+</text>
<text x="610.00" y="212.70" font-size="11" text-anchor="middle">-</text>
<text x="621.50" y="212.70" font-size="11" text-anchor="middle">+</text>
<text x="640.00" y="212.70" font-size="11" text-anchor="middle">-</text>
<text x="651.50" y="212.70" font-size="11" text-anchor="middle">+</text>
<text x="572.70" y="227.50" font-size="11.6">CDDP/Pem/MEKi</text>
<text x="542.00" y="120.20" font-size="11.5" text-anchor="middle" transform="rotate(-90 542.00 120.20)">% FLICA1<tspan font-size="8.3" dy="-4.83">+</tspan><tspan dy="4.8"> cells</tspan></text>
<text x="2.40" y="267.05" font-size="22" font-weight="bold">E</text>
<text x="101.00" y="242.50" font-size="7.4">CRISPR-<tspan font-style="italic">Aim2</tspan></text>
<line x1="114.10" y1="245.00" x2="135.60" y2="245.00" stroke="#000" stroke-width="0.8"/>
<text x="93.00" y="253.00" font-size="7.6" text-anchor="middle">Co</text>
<text x="114.50" y="253.00" font-size="7.6" text-anchor="middle">KD1</text>
<text x="133.70" y="253.00" font-size="7.6" text-anchor="middle">KD2</text>
<svg x="84.20" y="255.20" width="62.40" height="11.40" overflow="hidden">
<rect x="0.00" y="0.00" width="62.40" height="11.40" fill="#d6d6d6"/>
<rect x="4.10" y="3.20" width="16.70" height="5.00" fill="#222" opacity="1" filter="url(#bl2)"/>
<rect width="62.40" height="11.40" filter="url(#nz)" opacity="0.1"/>
</svg>
<rect x="84.20" y="255.20" width="62.40" height="11.40" fill="none" stroke="#000" stroke-width="1"/>
<line x1="84.20" y1="267.10" x2="146.60" y2="267.10" stroke="#999" stroke-width="1.2"/>
<svg x="84.20" y="268.10" width="62.40" height="9.90" overflow="hidden">
<rect x="0.00" y="0.00" width="62.40" height="9.90" fill="#e2e2e2"/>
<rect x="3.80" y="3.10" width="16.00" height="4.00" fill="#111" opacity="1" filter="url(#bl2)"/>
<rect x="22.80" y="3.30" width="17.00" height="3.80" fill="#111" opacity="1" filter="url(#bl2)"/>
<rect x="41.80" y="3.50" width="16.00" height="3.40" fill="#111" opacity="1" filter="url(#bl2)"/>
<rect width="62.40" height="9.90" filter="url(#nz)" opacity="0.08"/>
</svg>
<rect x="84.20" y="268.10" width="62.40" height="9.90" fill="none" stroke="#000" stroke-width="1"/>
<text x="82.00" y="263.70" font-size="7.2" text-anchor="end">AIM2</text>
<text x="82.00" y="276.00" font-size="7.2" text-anchor="end">β-actin</text>
<line x1="147.20" y1="261.00" x2="149.70" y2="261.00" stroke="#000" stroke-width="0.7"/>
<text x="151.00" y="263.80" font-size="7.2">39</text>
<line x1="147.20" y1="273.70" x2="149.70" y2="273.70" stroke="#000" stroke-width="0.7"/>
<text x="151.00" y="276.50" font-size="7.2">42</text>
<line x1="59.50" y1="293.20" x2="59.50" y2="426.20" stroke="#000" stroke-width="1"/>
<line x1="54.80" y1="293.20" x2="59.50" y2="293.20" stroke="#000" stroke-width="1"/>
<text x="53.30" y="297.52" font-size="12" text-anchor="end">20</text>
<line x1="54.80" y1="326.20" x2="59.50" y2="326.20" stroke="#000" stroke-width="1"/>
<text x="53.30" y="330.52" font-size="12" text-anchor="end">15</text>
<line x1="54.80" y1="359.50" x2="59.50" y2="359.50" stroke="#000" stroke-width="1"/>
<text x="53.30" y="363.82" font-size="12" text-anchor="end">10</text>
<line x1="54.80" y1="393.00" x2="59.50" y2="393.00" stroke="#000" stroke-width="1"/>
<text x="53.30" y="397.32" font-size="12" text-anchor="end">5</text>
<line x1="54.80" y1="426.20" x2="59.50" y2="426.20" stroke="#000" stroke-width="1"/>
<text x="53.30" y="430.52" font-size="12" text-anchor="end">0</text>
<line x1="59.50" y1="426.20" x2="155.50" y2="426.20" stroke="#000" stroke-width="1"/>
<line x1="77.10" y1="426.20" x2="77.10" y2="429.00" stroke="#000" stroke-width="1"/>
<line x1="107.10" y1="426.20" x2="107.10" y2="429.00" stroke="#000" stroke-width="1"/>
<line x1="137.60" y1="426.20" x2="137.60" y2="429.00" stroke="#000" stroke-width="1"/>
<line x1="84.50" y1="293.20" x2="144.00" y2="293.20" stroke="#000" stroke-width="0.8"/>
<text x="114.00" y="291.70" font-size="7.8" text-anchor="middle">p&lt;0.0001</text>
<line x1="84.50" y1="302.50" x2="114.00" y2="302.50" stroke="#000" stroke-width="0.8"/>
<text x="86.00" y="301.00" font-size="7.8">p=0.004</text>
<rect x="65.50" y="400.50" width="10.70" height="25.70" fill="#000"/>
<rect x="78.00" y="334.50" width="10.70" height="91.70" fill="#000"/>
<rect x="95.50" y="402.50" width="10.70" height="23.70" fill="#5c0050"/>
<rect x="108.00" y="397.00" width="11.20" height="29.20" fill="#5c0050"/>
<rect x="126.20" y="406.20" width="10.80" height="20.00" fill="#800080"/>
<rect x="138.20" y="404.20" width="11.30" height="22.00" fill="#800080"/>
<line x1="71.00" y1="400.50" x2="71.00" y2="393.50" stroke="#888" stroke-width="1"/>
<line x1="68.00" y1="393.50" x2="74.00" y2="393.50" stroke="#888" stroke-width="1"/>
<circle cx="67.50" cy="394.00" r="2.1" fill="#888"/>
<circle cx="74.00" cy="394.00" r="2.1" fill="#888"/>
<circle cx="70.00" cy="402.00" r="2.1" fill="#888"/>
<circle cx="67.00" cy="404.00" r="2.1" fill="#888"/>
<circle cx="73.00" cy="404.00" r="2.1" fill="#888"/>
<circle cx="71.00" cy="406.00" r="2.1" fill="#888"/>
<line x1="83.50" y1="334.50" x2="83.50" y2="312.50" stroke="#888" stroke-width="1"/>
<line x1="80.50" y1="312.50" x2="86.50" y2="312.50" stroke="#888" stroke-width="1"/>
<circle cx="79.50" cy="303.00" r="2.1" fill="#888"/>
<circle cx="86.50" cy="306.00" r="2.1" fill="#888"/>
<circle cx="79.00" cy="340.00" r="2.1" fill="#888"/>
<circle cx="87.00" cy="340.00" r="2.1" fill="#888"/>
<circle cx="83.00" cy="348.00" r="2.1" fill="#888"/>
<circle cx="81.00" cy="355.00" r="2.1" fill="#888"/>
<circle cx="85.00" cy="358.00" r="2.1" fill="#888"/>
<circle cx="82.00" cy="363.00" r="2.1" fill="#888"/>
<circle cx="100.80" cy="392.50" r="2.2" fill="#800070"/>
<circle cx="98.00" cy="400.00" r="2.2" fill="#800070"/>
<circle cx="103.00" cy="401.00" r="2.2" fill="#800070"/>
<circle cx="99.00" cy="404.00" r="2.2" fill="#800070"/>
<circle cx="104.00" cy="404.00" r="2.2" fill="#800070"/>
<circle cx="101.00" cy="407.00" r="2.2" fill="#800070"/>
<circle cx="113.50" cy="385.00" r="2.2" fill="#800070"/>
<circle cx="110.50" cy="389.00" r="2.2" fill="#800070"/>
<circle cx="116.00" cy="390.00" r="2.2" fill="#800070"/>
<circle cx="112.00" cy="395.00" r="2.2" fill="#800070"/>
<circle cx="116.00" cy="397.00" r="2.2" fill="#800070"/>
<circle cx="111.00" cy="401.00" r="2.2" fill="#800070"/>
<circle cx="114.00" cy="403.00" r="2.2" fill="#800070"/>
<circle cx="129.00" cy="404.00" r="2.2" fill="#c010c0"/>
<circle cx="132.00" cy="405.00" r="2.2" fill="#c010c0"/>
<circle cx="134.00" cy="404.00" r="2.2" fill="#c010c0"/>
<circle cx="130.00" cy="408.00" r="2.2" fill="#c010c0"/>
<circle cx="135.00" cy="408.00" r="2.2" fill="#c010c0"/>
<circle cx="141.00" cy="401.00" r="2.2" fill="#c010c0"/>
<circle cx="144.00" cy="402.00" r="2.2" fill="#c010c0"/>
<circle cx="147.00" cy="402.00" r="2.2" fill="#c010c0"/>
<circle cx="142.00" cy="406.00" r="2.2" fill="#c010c0"/>
<circle cx="146.00" cy="407.00" r="2.2" fill="#c010c0"/>
<rect x="98.20" y="312.00" width="9.30" height="9.20" fill="#000"/>
<text x="113.70" y="320.00" font-size="11.6">Control</text>
<rect x="98.20" y="325.00" width="9.30" height="8.70" fill="#5c0050"/>
<text x="113.70" y="332.50" font-size="11.6"><tspan font-style="italic">Aim2</tspan><tspan font-size="8.4" dy="-4.87">KD1</tspan></text>
<rect x="98.20" y="337.50" width="9.30" height="8.70" fill="#800080"/>
<text x="113.70" y="344.50" font-size="11.6"><tspan font-style="italic">Aim2</tspan><tspan font-size="8.4" dy="-4.87">KD2</tspan></text>
<svg x="58.70" y="430.50" width="100.00" height="15.00" overflow="hidden">
<rect x="0.00" y="0.00" width="100.00" height="15.00" fill="#b6b6b6"/>
<rect x="79.30" y="0.50" width="20.00" height="15.00" fill="#aaa" opacity="0.7" filter="url(#bl2)"/>
<rect x="0.30" y="0.50" width="16.00" height="15.00" fill="#c8c8c8" opacity="0.6" filter="url(#bl2)"/>
<ellipse cx="27.30" cy="7.50" rx="6.50" ry="3.00" fill="#444" opacity="0.8" filter="url(#bl)"/>
<rect width="100.00" height="15.00" filter="url(#nz)" opacity="0.15"/>
</svg>
<rect x="58.70" y="430.50" width="100.00" height="15.00" fill="none" stroke="#000" stroke-width="1"/>
<text x="27.50" y="442.50" font-size="12.1">IL-1β</text>
<line x1="159.20" y1="438.00" x2="161.50" y2="438.00" stroke="#000" stroke-width="1"/>
<text x="162.50" y="442.80" font-size="12.2">17</text>
<text x="71.20" y="455.90" font-size="11" text-anchor="middle">-</text>
<text x="82.50" y="455.90" font-size="11" text-anchor="middle">+</text>
<text x="100.70" y="455.90" font-size="11" text-anchor="middle">-</text>
<text x="112.50" y="455.90" font-size="11" text-anchor="middle">+</text>
<text x="130.50" y="455.90" font-size="11" text-anchor="middle">-</text>
<text x="142.50" y="455.90" font-size="11" text-anchor="middle">+</text>
<text x="62.50" y="469.20" font-size="11.6">CDDP/Pem/MEKi</text>
<text x="32.50" y="361.20" font-size="11.3" text-anchor="middle" transform="rotate(-90 32.50 361.20)">% FLICA1<tspan font-size="8.1" dy="-4.75">+</tspan><tspan dy="4.75"> cells</tspan></text>
<text x="174.40" y="266.90" font-size="22" font-weight="bold">F</text>
<rect x="225.50" y="265.00" width="9.00" height="8.70" fill="#000"/>
<text x="240.50" y="273.00" font-size="11.6">Control</text>
<rect x="225.50" y="277.00" width="9.00" height="8.50" fill="#5c0050"/>
<text x="240.50" y="284.50" font-size="11.6"><tspan font-style="italic">Aim2</tspan><tspan font-size="8.4" dy="-4.87">KD1</tspan></text>
<rect x="225.50" y="289.50" width="9.00" height="8.50" fill="#800080"/>
<text x="240.50" y="297.00" font-size="11.6"><tspan font-style="italic">Aim2</tspan><tspan font-size="8.4" dy="-4.87">KD2</tspan></text>
<rect x="287.00" y="277.00" width="9.20" height="8.50" fill="#a0004f"/>
<text x="300.50" y="284.50" font-size="11.6"><tspan font-style="italic">Txnip</tspan><tspan font-size="8.4" dy="-4.87">KD1</tspan></text>
<rect x="287.00" y="289.50" width="9.20" height="8.50" fill="#d6006e"/>
<text x="300.50" y="297.00" font-size="11.6"><tspan font-style="italic">Txnip</tspan><tspan font-size="8.4" dy="-4.87">KD2</tspan></text>
<line x1="221.20" y1="306.20" x2="221.20" y2="438.70" stroke="#000" stroke-width="1"/>
<line x1="216.50" y1="306.20" x2="221.20" y2="306.20" stroke="#000" stroke-width="1"/>
<text x="215.00" y="310.52" font-size="12" text-anchor="end">200</text>
<line x1="216.50" y1="339.20" x2="221.20" y2="339.20" stroke="#000" stroke-width="1"/>
<text x="215.00" y="343.52" font-size="12" text-anchor="end">150</text>
<line x1="216.50" y1="372.50" x2="221.20" y2="372.50" stroke="#000" stroke-width="1"/>
<text x="215.00" y="376.82" font-size="12" text-anchor="end">100</text>
<line x1="216.50" y1="405.50" x2="221.20" y2="405.50" stroke="#000" stroke-width="1"/>
<text x="215.00" y="409.82" font-size="12" text-anchor="end">50</text>
<line x1="216.50" y1="438.70" x2="221.20" y2="438.70" stroke="#000" stroke-width="1"/>
<text x="215.00" y="443.02" font-size="12" text-anchor="end">0</text>
<line x1="221.20" y1="438.70" x2="321.20" y2="438.70" stroke="#000" stroke-width="1"/>
<line x1="247.00" y1="438.70" x2="247.00" y2="441.50" stroke="#000" stroke-width="1"/>
<line x1="295.00" y1="438.70" x2="295.00" y2="441.50" stroke="#000" stroke-width="1"/>
<rect x="225.80" y="437.20" width="8.40" height="1.50" fill="#888"/>
<circle cx="227.50" cy="438.00" r="2.1" fill="#888"/>
<circle cx="230.00" cy="437.50" r="2.1" fill="#888"/>
<circle cx="232.50" cy="438.00" r="2.1" fill="#888"/>
<rect x="234.50" y="437.20" width="8.40" height="1.50" fill="#5c0050"/>
<circle cx="236.20" cy="438.00" r="2.1" fill="#800070"/>
<circle cx="238.70" cy="437.50" r="2.1" fill="#800070"/>
<circle cx="241.20" cy="438.00" r="2.1" fill="#800070"/>
<rect x="243.30" y="437.20" width="8.40" height="1.50" fill="#800080"/>
<circle cx="245.00" cy="438.00" r="2.1" fill="#c010c0"/>
<circle cx="247.50" cy="437.50" r="2.1" fill="#c010c0"/>
<circle cx="250.00" cy="438.00" r="2.1" fill="#c010c0"/>
<rect x="252.00" y="437.20" width="8.40" height="1.50" fill="#a0004f"/>
<circle cx="253.70" cy="438.00" r="2.1" fill="#c0005a"/>
<circle cx="256.20" cy="437.50" r="2.1" fill="#c0005a"/>
<circle cx="258.70" cy="438.00" r="2.1" fill="#c0005a"/>
<rect x="260.80" y="437.20" width="8.40" height="1.50" fill="#d6006e"/>
<circle cx="262.50" cy="438.00" r="2.1" fill="#d6106e"/>
<circle cx="265.00" cy="437.50" r="2.1" fill="#d6106e"/>
<circle cx="267.50" cy="438.00" r="2.1" fill="#d6106e"/>
<circle cx="265.00" cy="434.00" r="2.1" fill="#d6106e"/>
<rect x="274.50" y="376.20" width="8.00" height="62.50" fill="#000"/>
<line x1="278.50" y1="376.20" x2="278.50" y2="357.00" stroke="#666" stroke-width="1"/>
<line x1="275.50" y1="357.00" x2="281.50" y2="357.00" stroke="#666" stroke-width="1"/>
<circle cx="278.00" cy="335.50" r="2.1" fill="#888"/>
<circle cx="278.00" cy="347.50" r="2.1" fill="#888"/>
<circle cx="278.00" cy="350.50" r="2.1" fill="#888"/>
<circle cx="275.00" cy="382.00" r="2.1" fill="#888"/>
<circle cx="281.50" cy="382.00" r="2.1" fill="#888"/>
<circle cx="278.00" cy="390.00" r="2.1" fill="#888"/>
<circle cx="278.00" cy="397.00" r="2.1" fill="#888"/>
<circle cx="278.00" cy="402.00" r="2.1" fill="#888"/>
<circle cx="278.00" cy="407.00" r="2.1" fill="#888"/>
<rect x="282.50" y="437.00" width="7.50" height="1.70" fill="#5c0050"/>
<circle cx="284.00" cy="436.00" r="2.2" fill="#800070"/>
<circle cx="286.50" cy="434.00" r="2.2" fill="#800070"/>
<circle cx="289.00" cy="436.00" r="2.2" fill="#800070"/>
<circle cx="286.00" cy="438.00" r="2.2" fill="#800070"/>
<rect x="291.00" y="437.50" width="8.00" height="1.20" fill="#800080"/>
<circle cx="293.00" cy="437.00" r="2.2" fill="#c010c0"/>
<circle cx="296.00" cy="436.00" r="2.2" fill="#c010c0"/>
<circle cx="298.00" cy="437.50" r="2.2" fill="#c010c0"/>
<rect x="300.50" y="419.50" width="8.20" height="19.20" fill="#a0004f"/>
<line x1="304.50" y1="419.50" x2="304.50" y2="414.00" stroke="#d6006e" stroke-width="1"/>
<line x1="301.50" y1="414.00" x2="307.50" y2="414.00" stroke="#d6006e" stroke-width="1"/>
<circle cx="302.00" cy="412.00" r="2.2" fill="#d6106e"/>
<circle cx="306.00" cy="411.00" r="2.2" fill="#d6106e"/>
<circle cx="302.50" cy="418.00" r="2.2" fill="#d6106e"/>
<circle cx="307.00" cy="420.00" r="2.2" fill="#d6106e"/>
<circle cx="301.50" cy="424.00" r="2.2" fill="#d6106e"/>
<circle cx="306.00" cy="425.00" r="2.2" fill="#d6106e"/>
<circle cx="304.00" cy="431.00" r="2.2" fill="#d6106e"/>
<circle cx="304.00" cy="438.00" r="2.2" fill="#d6106e"/>
<rect x="309.00" y="424.50" width="8.50" height="14.20" fill="#d6006e"/>
<line x1="313.00" y1="424.50" x2="313.00" y2="417.00" stroke="#a0004f" stroke-width="1"/>
<line x1="310.00" y1="417.00" x2="316.00" y2="417.00" stroke="#a0004f" stroke-width="1"/>
<circle cx="311.00" cy="418.00" r="2.2" fill="#c0005a"/>
<circle cx="315.00" cy="417.00" r="2.2" fill="#c0005a"/>
<circle cx="311.00" cy="423.00" r="2.2" fill="#c0005a"/>
<circle cx="316.00" cy="424.00" r="2.2" fill="#c0005a"/>
<circle cx="313.00" cy="429.00" r="2.2" fill="#c0005a"/>
<circle cx="313.00" cy="437.00" r="2.2" fill="#c0005a"/>
<line x1="278.00" y1="305.50" x2="313.00" y2="305.50" stroke="#000" stroke-width="0.8"/>
<text x="296.00" y="303.70" font-size="7.8" text-anchor="middle">p=0.003</text>
<line x1="278.00" y1="315.00" x2="305.00" y2="315.00" stroke="#000" stroke-width="0.8"/>
<text x="291.50" y="313.70" font-size="7.8" text-anchor="middle">p=0.013</text>
<text x="273.00" y="323.20" font-size="7.8">p&lt;0.0001</text>
<line x1="279.50" y1="324.50" x2="295.00" y2="324.50" stroke="#000" stroke-width="0.8"/>
<text x="270.00" y="332.50" font-size="7.8">p&lt;0.0001</text>
<line x1="277.50" y1="333.80" x2="287.50" y2="333.80" stroke="#000" stroke-width="0.8"/>
<text x="247.00" y="454.70" font-size="11" text-anchor="middle">-</text>
<text x="295.00" y="454.70" font-size="11" text-anchor="middle">+</text>
<text x="227.00" y="470.00" font-size="11.6">CDDP/Pem/MEKi</text>
<text x="195.00" y="371.80" font-size="11.5" text-anchor="middle" transform="rotate(-90 195.00 371.80)"><tspan font-style="italic">Cxcl10/Actb</tspan> mRNA</text>
<text x="323.20" y="265.50" font-size="22" font-weight="bold">G</text>
<text x="428.70" y="241.20" font-size="7.4">CRISPR-<tspan font-style="italic">Casp1</tspan></text>
<line x1="443.70" y1="243.60" x2="465.00" y2="243.60" stroke="#000" stroke-width="0.8"/>
<text x="425.00" y="250.70" font-size="7.6" text-anchor="middle">Co</text>
<text x="444.20" y="250.70" font-size="7.6" text-anchor="middle">KD1</text>
<text x="465.50" y="250.70" font-size="7.6" text-anchor="middle">KD2</text>
<svg x="414.20" y="252.80" width="61.60" height="10.70" overflow="hidden">
<rect x="0.00" y="0.00" width="61.60" height="10.70" fill="#dcdcdc"/>
<rect x="2.70" y="1.80" width="14.70" height="5.40" fill="#333" opacity="1" filter="url(#bl2)"/>
<rect x="22.80" y="2.70" width="14.00" height="4.00" fill="#bbb" opacity="0.8" filter="url(#bl2)"/>
<rect x="43.80" y="2.70" width="14.00" height="4.00" fill="#c4c4c4" opacity="0.8" filter="url(#bl2)"/>
<rect width="61.60" height="10.70" filter="url(#nz)" opacity="0.1"/>
</svg>
<rect x="414.20" y="252.80" width="61.60" height="10.70" fill="none" stroke="#000" stroke-width="1"/>
<svg x="414.20" y="265.30" width="61.60" height="10.70" overflow="hidden">
<rect x="0.00" y="0.00" width="61.60" height="10.70" fill="#e2e2e2"/>
<rect x="2.30" y="3.50" width="15.50" height="4.00" fill="#111" opacity="1" filter="url(#bl2)"/>
<rect x="23.30" y="3.50" width="14.50" height="4.00" fill="#111" opacity="1" filter="url(#bl2)"/>
<rect x="43.30" y="3.50" width="15.50" height="4.00" fill="#111" opacity="1" filter="url(#bl2)"/>
<rect width="61.60" height="10.70" filter="url(#nz)" opacity="0.08"/>
</svg>
<rect x="414.20" y="265.30" width="61.60" height="10.70" fill="none" stroke="#000" stroke-width="1"/>
<text x="412.00" y="261.20" font-size="7.2" text-anchor="end">Pro-Casp1</text>
<text x="412.00" y="273.50" font-size="7.2" text-anchor="end">β-actin</text>
<line x1="477.00" y1="258.30" x2="479.50" y2="258.30" stroke="#000" stroke-width="0.7"/>
<text x="481.20" y="261.20" font-size="7.2">45</text>
<line x1="477.00" y1="271.20" x2="479.50" y2="271.20" stroke="#000" stroke-width="0.7"/>
<text x="481.20" y="274.00" font-size="7.2">42</text>
<line x1="387.50" y1="292.50" x2="387.50" y2="425.70" stroke="#000" stroke-width="1"/>
<line x1="382.80" y1="292.50" x2="387.50" y2="292.50" stroke="#000" stroke-width="1"/>
<text x="381.30" y="296.82" font-size="12" text-anchor="end">20</text>
<line x1="382.80" y1="319.20" x2="387.50" y2="319.20" stroke="#000" stroke-width="1"/>
<text x="381.30" y="323.52" font-size="12" text-anchor="end">16</text>
<line x1="382.80" y1="346.20" x2="387.50" y2="346.20" stroke="#000" stroke-width="1"/>
<text x="381.30" y="350.52" font-size="12" text-anchor="end">12</text>
<line x1="382.80" y1="373.00" x2="387.50" y2="373.00" stroke="#000" stroke-width="1"/>
<text x="381.30" y="377.32" font-size="12" text-anchor="end">8</text>
<line x1="382.80" y1="400.00" x2="387.50" y2="400.00" stroke="#000" stroke-width="1"/>
<text x="381.30" y="404.32" font-size="12" text-anchor="end">4</text>
<line x1="382.80" y1="425.70" x2="387.50" y2="425.70" stroke="#000" stroke-width="1"/>
<text x="381.30" y="430.02" font-size="12" text-anchor="end">0</text>
<line x1="387.50" y1="425.70" x2="483.70" y2="425.70" stroke="#000" stroke-width="1"/>
<line x1="405.00" y1="425.70" x2="405.00" y2="428.50" stroke="#000" stroke-width="1"/>
<line x1="435.00" y1="425.70" x2="435.00" y2="428.50" stroke="#000" stroke-width="1"/>
<line x1="466.00" y1="425.70" x2="466.00" y2="428.50" stroke="#000" stroke-width="1"/>
<line x1="412.00" y1="288.20" x2="471.70" y2="288.20" stroke="#000" stroke-width="0.8"/>
<text x="442.50" y="286.20" font-size="7.8" text-anchor="middle">p=0.0284</text>
<line x1="411.20" y1="297.50" x2="445.00" y2="297.50" stroke="#000" stroke-width="0.8"/>
<text x="412.00" y="296.20" font-size="7.8">p=0.0072</text>
<rect x="427.00" y="307.00" width="8.50" height="8.50" fill="#000"/>
<text x="442.50" y="315.00" font-size="11.6">Control</text>
<rect x="427.00" y="320.50" width="8.50" height="8.20" fill="#0000b4"/>
<text x="442.50" y="327.50" font-size="11.6"><tspan font-style="italic">Casp1</tspan><tspan font-size="8.4" dy="-4.87">KD1</tspan></text>
<rect x="427.00" y="333.70" width="8.50" height="8.80" fill="#0000ff"/>
<text x="442.50" y="341.20" font-size="11.6"><tspan font-style="italic">Casp1</tspan><tspan font-size="8.4" dy="-4.87">KD2</tspan></text>
<rect x="393.00" y="400.00" width="11.20" height="25.70" fill="#000"/>
<rect x="405.50" y="334.50" width="11.20" height="91.20" fill="#000"/>
<rect x="423.20" y="397.50" width="11.00" height="28.20" fill="#0000b4"/>
<rect x="435.50" y="391.20" width="11.50" height="34.50" fill="#0000b4"/>
<rect x="453.70" y="389.50" width="11.30" height="36.20" fill="#0000ff"/>
<rect x="466.20" y="381.20" width="11.30" height="44.50" fill="#0000ff"/>
<line x1="398.60" y1="400.00" x2="398.60" y2="387.00" stroke="#888" stroke-width="1"/>
<line x1="395.60" y1="387.00" x2="401.60" y2="387.00" stroke="#888" stroke-width="1"/>
<circle cx="395.00" cy="390.00" r="2.2" fill="#888"/>
<circle cx="401.50" cy="390.00" r="2.2" fill="#888"/>
<circle cx="398.50" cy="402.00" r="2.2" fill="#888"/>
<circle cx="398.50" cy="417.00" r="2.2" fill="#888"/>
<line x1="411.00" y1="334.50" x2="411.00" y2="307.50" stroke="#000" stroke-width="1"/>
<line x1="408.00" y1="307.50" x2="414.00" y2="307.50" stroke="#000" stroke-width="1"/>
<circle cx="411.00" cy="300.50" r="2.2" fill="#888"/>
<circle cx="407.50" cy="325.50" r="2.2" fill="#888"/>
<circle cx="414.50" cy="325.50" r="2.2" fill="#888"/>
<circle cx="411.00" cy="352.50" r="2.2" fill="#888"/>
<circle cx="411.00" cy="370.00" r="2.2" fill="#888"/>
<line x1="428.70" y1="397.50" x2="428.70" y2="391.00" stroke="#0000b4" stroke-width="1"/>
<line x1="425.70" y1="391.00" x2="431.70" y2="391.00" stroke="#0000b4" stroke-width="1"/>
<circle cx="428.70" cy="387.00" r="2.2" fill="#0000b4"/>
<circle cx="425.00" cy="397.00" r="2.2" fill="#0000b4"/>
<circle cx="428.00" cy="398.00" r="2.2" fill="#0000b4"/>
<circle cx="432.00" cy="397.00" r="2.2" fill="#0000b4"/>
<circle cx="428.70" cy="408.00" r="2.2" fill="#0000b4"/>
<circle cx="437.00" cy="392.00" r="2.2" fill="#0000b4"/>
<circle cx="441.00" cy="390.00" r="2.2" fill="#0000b4"/>
<circle cx="445.00" cy="392.00" r="2.2" fill="#0000b4"/>
<circle cx="439.00" cy="395.00" r="2.2" fill="#0000b4"/>
<circle cx="456.00" cy="392.00" r="2.2" fill="#1010ff"/>
<circle cx="460.00" cy="390.00" r="2.2" fill="#1010ff"/>
<circle cx="463.00" cy="391.00" r="2.2" fill="#1010ff"/>
<circle cx="459.00" cy="396.00" r="2.2" fill="#1010ff"/>
<line x1="471.80" y1="381.20" x2="471.80" y2="355.50" stroke="#0000b4" stroke-width="1"/>
<line x1="468.80" y1="355.50" x2="474.80" y2="355.50" stroke="#0000b4" stroke-width="1"/>
<circle cx="471.80" cy="355.50" r="2.2" fill="#0000b4"/>
<circle cx="471.80" cy="363.00" r="2.2" fill="#0000b4"/>
<circle cx="471.80" cy="371.00" r="2.2" fill="#0000b4"/>
<circle cx="468.00" cy="407.00" r="2.2" fill="#0000b4"/>
<circle cx="476.00" cy="407.00" r="2.2" fill="#0000b4"/>
<svg x="384.50" y="431.20" width="100.50" height="14.30" overflow="hidden">
<rect x="0.00" y="0.00" width="100.50" height="14.30" fill="#c8c8c8"/>
<rect x="55.50" y="-0.20" width="45.00" height="15.00" fill="#d4d4d4" opacity="0.7" filter="url(#bl2)"/>
<ellipse cx="29.50" cy="7.10" rx="6.00" ry="2.50" fill="#555" opacity="0.8" filter="url(#bl)"/>
<rect width="100.50" height="14.30" filter="url(#nz)" opacity="0.12"/>
</svg>
<rect x="384.50" y="431.20" width="100.50" height="14.30" fill="none" stroke="#000" stroke-width="1"/>
<text x="354.00" y="443.00" font-size="12.1">IL-1β</text>
<line x1="485.50" y1="438.30" x2="488.00" y2="438.30" stroke="#000" stroke-width="1"/>
<text x="489.00" y="443.30" font-size="12.2">17</text>
<text x="398.70" y="455.90" font-size="11" text-anchor="middle">-</text>
<text x="410.50" y="455.90" font-size="11" text-anchor="middle">+</text>
<text x="428.70" y="455.90" font-size="11" text-anchor="middle">-</text>
<text x="440.70" y="455.90" font-size="11" text-anchor="middle">+</text>
<text x="458.70" y="455.90" font-size="11" text-anchor="middle">-</text>
<text x="470.50" y="455.90" font-size="11" text-anchor="middle">+</text>
<text x="390.70" y="470.00" font-size="11.6">CDDP/Pem/MEKi</text>
<text x="360.20" y="359.50" font-size="11.4" text-anchor="middle" transform="rotate(-90 360.20 359.50)">% FLICA1<tspan font-size="8.2" dy="-4.79">+</tspan><tspan dy="4.79"> cells</tspan></text>
<text x="521.50" y="265.70" font-size="22" font-weight="bold">H</text>
<text x="607.70" y="241.00" font-size="7.4">CRISPR-<tspan font-style="italic">Il1b</tspan></text>
<line x1="619.00" y1="243.80" x2="640.00" y2="243.80" stroke="#000" stroke-width="0.8"/>
<text x="598.50" y="251.70" font-size="7.6" text-anchor="middle">Co</text>
<text x="619.00" y="251.70" font-size="7.6" text-anchor="middle">KD1</text>
<text x="639.00" y="251.70" font-size="7.6" text-anchor="middle">KD2</text>
<svg x="589.60" y="253.20" width="60.80" height="10.90" overflow="hidden">
<rect x="0.00" y="0.00" width="60.80" height="10.90" fill="#e0e0e0"/>
<rect x="4.40" y="3.30" width="14.50" height="3.10" fill="#777" opacity="0.9" filter="url(#bl2)"/>
<rect x="22.40" y="3.80" width="16.00" height="2.80" fill="#999" opacity="0.85" filter="url(#bl2)"/>
<rect x="41.40" y="3.80" width="15.00" height="2.50" fill="#d0d0d0" opacity="0.7" filter="url(#bl2)"/>
<rect width="60.80" height="10.90" filter="url(#nz)" opacity="0.08"/>
</svg>
<rect x="589.60" y="253.20" width="60.80" height="10.90" fill="none" stroke="#000" stroke-width="1"/>
<line x1="589.60" y1="264.80" x2="650.40" y2="264.80" stroke="#999" stroke-width="1.2"/>
<svg x="589.60" y="266.10" width="60.80" height="9.90" overflow="hidden">
<rect x="0.00" y="0.00" width="60.80" height="9.90" fill="#e0e0e0"/>
<rect x="1.40" y="3.90" width="17.00" height="3.20" fill="#555" opacity="1" filter="url(#bl2)"/>
<rect x="21.40" y="3.90" width="17.00" height="3.40" fill="#222" opacity="1" filter="url(#bl2)"/>
<rect x="40.40" y="4.10" width="16.00" height="3.20" fill="#444" opacity="1" filter="url(#bl2)"/>
<rect width="60.80" height="9.90" filter="url(#nz)" opacity="0.08"/>
</svg>
<rect x="589.60" y="266.10" width="60.80" height="9.90" fill="none" stroke="#000" stroke-width="1"/>
<text x="587.70" y="262.50" font-size="7.2" text-anchor="end">Pro-IL-1β</text>
<text x="587.70" y="274.50" font-size="7.2" text-anchor="end">β-actin</text>
<line x1="652.00" y1="258.50" x2="654.50" y2="258.50" stroke="#000" stroke-width="0.7"/>
<text x="656.50" y="261.50" font-size="7.2">37</text>
<line x1="652.00" y1="271.50" x2="654.50" y2="271.50" stroke="#000" stroke-width="0.7"/>
<text x="656.50" y="274.50" font-size="7.2">42</text>
<line x1="558.90" y1="291.60" x2="558.90" y2="441.50" stroke="#000" stroke-width="1"/>
<line x1="553.90" y1="317.30" x2="558.90" y2="317.30" stroke="#000" stroke-width="1"/>
<text x="552.40" y="321.37" font-size="11.3" text-anchor="end">150</text>
<line x1="553.90" y1="358.60" x2="558.90" y2="358.60" stroke="#000" stroke-width="1"/>
<text x="552.40" y="362.67" font-size="11.3" text-anchor="end">100</text>
<line x1="553.90" y1="400.20" x2="558.90" y2="400.20" stroke="#000" stroke-width="1"/>
<text x="552.40" y="404.27" font-size="11.3" text-anchor="end">50</text>
<line x1="553.90" y1="441.50" x2="558.90" y2="441.50" stroke="#000" stroke-width="1"/>
<text x="552.40" y="445.57" font-size="11.3" text-anchor="end">0</text>
<line x1="558.90" y1="441.50" x2="658.00" y2="441.50" stroke="#000" stroke-width="1"/>
<line x1="584.70" y1="441.50" x2="584.70" y2="444.30" stroke="#000" stroke-width="1"/>
<line x1="632.20" y1="441.50" x2="632.20" y2="444.30" stroke="#000" stroke-width="1"/>
<rect x="562.00" y="290.20" width="9.00" height="9.00" fill="#000"/>
<text x="577.50" y="298.40" font-size="11.6">Control</text>
<rect x="562.00" y="302.40" width="9.00" height="9.50" fill="#0000b4"/>
<text x="577.50" y="310.50" font-size="11.6"><tspan font-style="italic">Casp1</tspan><tspan font-size="8.4" dy="-4.87">KD1</tspan></text>
<rect x="562.00" y="315.40" width="9.00" height="9.40" fill="#0000ff"/>
<text x="577.50" y="323.50" font-size="11.6"><tspan font-style="italic">Casp1</tspan><tspan font-size="8.4" dy="-4.87">KD2</tspan></text>
<rect x="637.20" y="303.80" width="8.60" height="8.90" fill="#0a4a5a"/>
<text x="649.90" y="310.40" font-size="11.6"><tspan font-style="italic">Il1b</tspan><tspan font-size="8.4" dy="-4.87">KD1</tspan></text>
<rect x="637.20" y="316.40" width="8.60" height="9.00" fill="#0a7a8c"/>
<text x="649.90" y="324.00" font-size="11.6"><tspan font-style="italic">Il1b</tspan><tspan font-size="8.4" dy="-4.87">KD2</tspan></text>
<rect x="562.00" y="440.00" width="8.00" height="1.50" fill="#888"/>
<circle cx="563.50" cy="440.80" r="2.1" fill="#888"/>
<circle cx="566.00" cy="440.00" r="2.1" fill="#888"/>
<circle cx="568.50" cy="440.80" r="2.1" fill="#888"/>
<rect x="571.70" y="440.00" width="8.00" height="1.50" fill="#0000b4"/>
<circle cx="573.20" cy="440.80" r="2.1" fill="#00008c"/>
<circle cx="575.70" cy="440.00" r="2.1" fill="#00008c"/>
<circle cx="578.20" cy="440.80" r="2.1" fill="#00008c"/>
<rect x="579.70" y="440.00" width="8.00" height="1.50" fill="#0000ff"/>
<circle cx="581.20" cy="440.80" r="2.1" fill="#0000d0"/>
<circle cx="583.70" cy="440.00" r="2.1" fill="#0000d0"/>
<circle cx="586.20" cy="440.80" r="2.1" fill="#0000d0"/>
<rect x="589.20" y="440.00" width="8.00" height="1.50" fill="#0a4a5a"/>
<circle cx="590.70" cy="440.80" r="2.1" fill="#0a6a7a"/>
<circle cx="593.20" cy="440.00" r="2.1" fill="#0a6a7a"/>
<circle cx="595.70" cy="440.80" r="2.1" fill="#0a6a7a"/>
<rect x="597.30" y="440.00" width="8.00" height="1.50" fill="#0a7a8c"/>
<circle cx="598.80" cy="440.80" r="2.1" fill="#1090a8"/>
<circle cx="601.30" cy="440.00" r="2.1" fill="#1090a8"/>
<circle cx="603.80" cy="440.80" r="2.1" fill="#1090a8"/>
<rect x="610.70" y="385.60" width="8.10" height="55.90" fill="#000"/>
<line x1="614.80" y1="385.60" x2="614.80" y2="372.00" stroke="#666" stroke-width="1"/>
<line x1="611.80" y1="372.00" x2="617.80" y2="372.00" stroke="#666" stroke-width="1"/>
<circle cx="614.80" cy="360.00" r="2.1" fill="#888"/>
<circle cx="614.80" cy="363.00" r="2.1" fill="#888"/>
<circle cx="614.80" cy="367.00" r="2.1" fill="#888"/>
<circle cx="612.00" cy="386.00" r="2.1" fill="#888"/>
<circle cx="617.50" cy="386.00" r="2.1" fill="#888"/>
<circle cx="612.00" cy="407.00" r="2.1" fill="#888"/>
<circle cx="617.00" cy="408.00" r="2.1" fill="#888"/>
<circle cx="614.80" cy="410.00" r="2.1" fill="#888"/>
<rect x="619.60" y="426.60" width="7.90" height="14.90" fill="#0000b4"/>
<line x1="623.50" y1="426.60" x2="623.50" y2="415.00" stroke="#00008c" stroke-width="1"/>
<line x1="620.50" y1="415.00" x2="626.50" y2="415.00" stroke="#00008c" stroke-width="1"/>
<circle cx="623.50" cy="403.50" r="2.2" fill="#00008c"/>
<circle cx="623.50" cy="413.00" r="2.2" fill="#00008c"/>
<circle cx="621.00" cy="428.00" r="2.2" fill="#00008c"/>
<circle cx="626.00" cy="428.00" r="2.2" fill="#00008c"/>
<circle cx="623.00" cy="436.00" r="2.2" fill="#00008c"/>
<circle cx="623.00" cy="439.00" r="2.2" fill="#00008c"/>
<rect x="628.30" y="426.00" width="8.10" height="15.50" fill="#0000ff"/>
<circle cx="632.00" cy="422.00" r="2.2" fill="#0000d0"/>
<circle cx="630.00" cy="427.00" r="2.2" fill="#0000d0"/>
<circle cx="634.50" cy="426.00" r="2.2" fill="#0000d0"/>
<circle cx="632.00" cy="432.00" r="2.2" fill="#0000d0"/>
<circle cx="632.00" cy="439.00" r="2.2" fill="#0000d0"/>
<rect x="637.20" y="421.20" width="8.10" height="20.30" fill="#0a4a5a"/>
<line x1="641.20" y1="421.20" x2="641.20" y2="414.00" stroke="#0a7a8c" stroke-width="1"/>
<line x1="638.20" y1="414.00" x2="644.20" y2="414.00" stroke="#0a7a8c" stroke-width="1"/>
<circle cx="639.00" cy="413.50" r="2.2" fill="#1090a8"/>
<circle cx="643.00" cy="413.50" r="2.2" fill="#1090a8"/>
<circle cx="641.00" cy="421.00" r="2.2" fill="#1090a8"/>
<circle cx="639.00" cy="426.00" r="2.2" fill="#1090a8"/>
<circle cx="643.00" cy="426.00" r="2.2" fill="#1090a8"/>
<circle cx="641.00" cy="432.00" r="2.2" fill="#1090a8"/>
<circle cx="641.00" cy="440.00" r="2.2" fill="#1090a8"/>
<rect x="645.80" y="432.00" width="8.20" height="9.50" fill="#0a7a8c"/>
<line x1="650.00" y1="432.00" x2="650.00" y2="419.00" stroke="#1090a8" stroke-width="1"/>
<line x1="647.00" y1="419.00" x2="653.00" y2="419.00" stroke="#1090a8" stroke-width="1"/>
<circle cx="650.00" cy="411.50" r="2.2" fill="#1090a8"/>
<circle cx="650.00" cy="416.00" r="2.2" fill="#1090a8"/>
<circle cx="650.00" cy="421.00" r="2.2" fill="#1090a8"/>
<circle cx="650.00" cy="426.00" r="2.2" fill="#1090a8"/>
<circle cx="650.00" cy="431.00" r="2.2" fill="#1090a8"/>
<circle cx="650.00" cy="436.00" r="2.2" fill="#1090a8"/>
<circle cx="648.00" cy="440.00" r="2.2" fill="#1090a8"/>
<circle cx="652.00" cy="440.00" r="2.2" fill="#1090a8"/>
<text x="615.60" y="332.20" font-size="7.9">p&lt;0.0001</text>
<line x1="613.40" y1="333.80" x2="650.00" y2="333.80" stroke="#000" stroke-width="0.8"/>
<text x="613.40" y="339.70" font-size="7.8">p=0.023</text>
<line x1="613.40" y1="341.00" x2="641.80" y2="341.00" stroke="#000" stroke-width="0.8"/>
<text x="609.40" y="348.90" font-size="7.8">p=0.0002</text>
<line x1="616.00" y1="350.30" x2="632.00" y2="350.30" stroke="#000" stroke-width="0.8"/>
<text x="607.50" y="357.00" font-size="7.8">p=0.0001</text>
<line x1="614.00" y1="358.40" x2="624.00" y2="358.40" stroke="#000" stroke-width="0.8"/>
<text x="584.70" y="457.90" font-size="11" text-anchor="middle">-</text>
<text x="632.20" y="457.90" font-size="11" text-anchor="middle">+</text>
<text x="563.50" y="470.00" font-size="11.6">CDDP/Pem/MEKi</text>
<text x="531.40" y="366.50" font-size="11.6" text-anchor="middle" transform="rotate(-90 531.40 366.50)"><tspan font-style="italic">Cxcl10/Actb</tspan> mRNA</text>
<text x="2.40" y="495.70" font-size="18" font-weight="bold">I</text>
<g>
<path d="M49,506 C42,507 37,509 38,512.5 C39,515.5 50,515.5 58,515 C61,514.8 64,515.3 66,515.8" stroke="#d9a3a3" stroke-width="1.3" fill="none"/>
<path d="M46.5,505 C46,497 55,492 64,492.5 C70,492.8 74,494 77,496 L80,498 C83,501 83,507 80,509.5 C76,512 66,512 58,511.5 C51,511 47,509.5 46.5,505 Z" fill="#4a4443"/>
<path d="M72,497 C72,493 76,490.5 79.5,491.2 C82,491.5 84,493 86,495 C87.5,496.3 88.5,497.5 88,499 C87.5,500.5 85,501.5 82.5,502 C79,503 76,503 74,501.5 Z" fill="#4a4443"/>
<ellipse cx="74.5" cy="494.8" rx="1.8" ry="3" fill="#d9a0a0" transform="rotate(-15 74.5 494.8)"/>
<ellipse cx="77.3" cy="491.2" rx="1.3" ry="1.6" fill="#4a4443"/>
<circle cx="81.50" cy="495.80" r="0.6" fill="#111"/>
<circle cx="88.20" cy="497.80" r="0.7" fill="#d9a0a0"/>
<path d="M76,509 L79,511 L80.5,511.3" stroke="#d9a0a0" stroke-width="1" fill="none"/>
<path d="M53,510.5 L55,512.5 L57.5,512.8" stroke="#d9a0a0" stroke-width="1" fill="none"/>
</g>
<line x1="81.70" y1="511.10" x2="216.10" y2="511.10" stroke="#000" stroke-width="0.9"/>
<line x1="82.70" y1="511.10" x2="82.70" y2="514.30" stroke="#000" stroke-width="0.9"/>
<text x="82.70" y="526.80" font-size="12.1" text-anchor="middle">d0</text>
<line x1="112.30" y1="511.10" x2="112.30" y2="514.30" stroke="#000" stroke-width="0.9"/>
<text x="112.30" y="526.80" font-size="12.1" text-anchor="middle">d9</text>
<line x1="141.40" y1="511.10" x2="141.40" y2="514.30" stroke="#000" stroke-width="0.9"/>
<text x="141.00" y="526.80" font-size="12.1" text-anchor="middle">d16</text>
<line x1="170.90" y1="511.10" x2="170.90" y2="514.30" stroke="#000" stroke-width="0.9"/>
<text x="170.80" y="526.80" font-size="12.1" text-anchor="middle">d23</text>
<line x1="207.40" y1="511.10" x2="207.40" y2="514.30" stroke="#000" stroke-width="0.9"/>
<text x="200.50" y="526.80" font-size="12.1" text-anchor="middle">d30</text>
<circle cx="82.60" cy="506.70" r="2.7" fill="#c8960a"/>
<circle cx="111.80" cy="492.80" r="2.7" fill="#c00010"/>
<circle cx="111.80" cy="499.60" r="2.7" fill="#0a64a0"/>
<circle cx="120.00" cy="499.60" r="2.7" fill="#0a64a0"/>
<circle cx="128.00" cy="499.60" r="2.7" fill="#0a64a0"/>
<circle cx="141.70" cy="499.60" r="2.7" fill="#0a64a0"/>
<circle cx="150.00" cy="499.60" r="2.7" fill="#0a64a0"/>
<circle cx="158.30" cy="499.60" r="2.7" fill="#0a64a0"/>
<circle cx="170.70" cy="499.60" r="2.7" fill="#0a64a0"/>
<circle cx="179.00" cy="499.60" r="2.7" fill="#0a64a0"/>
<circle cx="187.30" cy="499.60" r="2.7" fill="#0a64a0"/>
<circle cx="103.20" cy="506.60" r="2.4" fill="#ff9090"/>
<circle cx="106.55" cy="506.60" r="2.4" fill="#ff9090"/>
<circle cx="109.90" cy="506.60" r="2.4" fill="#ff9090"/>
<circle cx="113.25" cy="506.60" r="2.4" fill="#ff9090"/>
<circle cx="116.60" cy="506.60" r="2.4" fill="#ff9090"/>
<circle cx="119.95" cy="506.60" r="2.4" fill="#ff9090"/>
<circle cx="123.30" cy="506.60" r="2.4" fill="#ff9090"/>
<circle cx="126.65" cy="506.60" r="2.4" fill="#ff9090"/>
<circle cx="130.00" cy="506.60" r="2.4" fill="#ff9090"/>
<circle cx="133.35" cy="506.60" r="2.4" fill="#ff9090"/>
<circle cx="136.70" cy="506.60" r="2.4" fill="#ff9090"/>
<text x="230.00" y="508.10" font-size="11.7" fill="#c9a02a">LLC1 Co or <tspan font-style="italic">Txnip</tspan><tspan font-size="7.7" dy="-4.68">KD2</tspan><tspan dy="4.68"> </tspan>or <tspan font-style="italic">Aim2</tspan><tspan font-size="7.7" dy="-4.68">KD1</tspan><tspan dy="4.68"> </tspan>or <tspan font-style="italic">Casp1</tspan><tspan font-size="7.7" dy="-4.68">KD1</tspan><tspan dy="4.68"> </tspan>or <tspan font-style="italic">Il1b</tspan><tspan font-size="7.7" dy="-4.68">KD2</tspan><tspan dy="4.68"> </tspan>(s.c.)</text>
<text x="230.00" y="519.20" font-size="11.7"><tspan fill="#c81e32">CDDP/Pem</tspan><tspan fill="#222"> / </tspan><tspan fill="#1e78b4">αPD-1</tspan><tspan fill="#222"> / </tspan><tspan fill="#ff9a9a">MEKi</tspan></text>
<line x1="558.50" y1="500.00" x2="575.20" y2="500.00" stroke="#000" stroke-width="0.9"/>
<rect x="563.80" y="497.20" width="5.70" height="5.70" fill="#fff" stroke="#000" stroke-width="0.9"/>
<text x="586.50" y="502.50" font-size="11">-</text>
<line x1="558.50" y1="520.00" x2="575.20" y2="520.00" stroke="#000" stroke-width="0.9"/>
<circle cx="567.00" cy="520.00" r="3.1" fill="#fff" stroke="#000" stroke-width="0.9"/>
<text x="586.50" y="517.00" font-size="11.7">CDDP/Pem/MEKi</text>
<text x="586.50" y="530.70" font-size="11.7">+ α PD-1</text>
<line x1="45.50" y1="542.00" x2="45.50" y2="675.00" stroke="#000" stroke-width="1"/>
<line x1="40.80" y1="675.00" x2="45.50" y2="675.00" stroke="#000" stroke-width="1"/>
<text x="38.80" y="679.30" font-size="12" text-anchor="end">0</text>
<line x1="40.80" y1="641.75" x2="45.50" y2="641.75" stroke="#000" stroke-width="1"/>
<text x="38.80" y="646.05" font-size="12" text-anchor="end">100</text>
<line x1="40.80" y1="608.50" x2="45.50" y2="608.50" stroke="#000" stroke-width="1"/>
<text x="38.80" y="612.80" font-size="12" text-anchor="end">200</text>
<line x1="40.80" y1="575.25" x2="45.50" y2="575.25" stroke="#000" stroke-width="1"/>
<text x="38.80" y="579.55" font-size="12" text-anchor="end">300</text>
<line x1="40.80" y1="542.00" x2="45.50" y2="542.00" stroke="#000" stroke-width="1"/>
<text x="38.80" y="546.30" font-size="12" text-anchor="end">400</text>
<line x1="45.50" y1="675.00" x2="161.20" y2="675.00" stroke="#000" stroke-width="1"/>
<line x1="45.50" y1="675.00" x2="45.50" y2="679.00" stroke="#000" stroke-width="1"/>
<text x="45.50" y="694.50" font-size="12" text-anchor="middle">0</text>
<line x1="84.07" y1="675.00" x2="84.07" y2="679.00" stroke="#000" stroke-width="1"/>
<text x="84.07" y="694.50" font-size="12" text-anchor="middle">10</text>
<line x1="122.64" y1="675.00" x2="122.64" y2="679.00" stroke="#000" stroke-width="1"/>
<text x="122.64" y="694.50" font-size="12" text-anchor="middle">20</text>
<line x1="161.21" y1="675.00" x2="161.21" y2="679.00" stroke="#000" stroke-width="1"/>
<text x="161.21" y="694.50" font-size="12" text-anchor="middle">30</text>
<text x="103.35" y="704.50" font-size="11.8" text-anchor="middle">Days</text>
<polyline points="45.50,675.00 72.50,666.02 80.21,661.70 91.78,659.37 99.50,656.05 107.21,654.05 118.78,650.06 126.50,648.73 134.21,645.08 145.78,638.09 153.50,623.79" fill="none" stroke="#000" stroke-width="1.15"/>
<polyline points="45.50,675.00 72.50,666.02 80.21,661.03 91.78,653.72 99.50,647.40 107.21,642.41 118.78,630.11 126.50,618.81 134.21,608.83 145.78,586.22 153.50,574.92" fill="none" stroke="#000" stroke-width="1.15"/>
<line x1="145.78" y1="635.43" x2="145.78" y2="640.75" stroke="#000" stroke-width="0.9"/>
<line x1="143.28" y1="635.43" x2="148.28" y2="635.43" stroke="#000" stroke-width="0.9"/>
<line x1="143.28" y1="640.75" x2="148.28" y2="640.75" stroke="#000" stroke-width="0.9"/>
<line x1="153.50" y1="619.80" x2="153.50" y2="627.78" stroke="#000" stroke-width="0.9"/>
<line x1="151.00" y1="619.80" x2="156.00" y2="619.80" stroke="#000" stroke-width="0.9"/>
<line x1="151.00" y1="627.78" x2="156.00" y2="627.78" stroke="#000" stroke-width="0.9"/>
<line x1="134.21" y1="606.84" x2="134.21" y2="610.83" stroke="#000" stroke-width="0.9"/>
<line x1="131.71" y1="606.84" x2="136.71" y2="606.84" stroke="#000" stroke-width="0.9"/>
<line x1="131.71" y1="610.83" x2="136.71" y2="610.83" stroke="#000" stroke-width="0.9"/>
<line x1="145.78" y1="582.23" x2="145.78" y2="590.21" stroke="#000" stroke-width="0.9"/>
<line x1="143.28" y1="582.23" x2="148.28" y2="582.23" stroke="#000" stroke-width="0.9"/>
<line x1="143.28" y1="590.21" x2="148.28" y2="590.21" stroke="#000" stroke-width="0.9"/>
<line x1="153.50" y1="573.25" x2="153.50" y2="576.58" stroke="#000" stroke-width="0.9"/>
<line x1="151.00" y1="573.25" x2="156.00" y2="573.25" stroke="#000" stroke-width="0.9"/>
<line x1="151.00" y1="576.58" x2="156.00" y2="576.58" stroke="#000" stroke-width="0.9"/>
<circle cx="45.50" cy="675.00" r="3.3" fill="#000"/>
<circle cx="72.50" cy="666.02" r="3.3" fill="#000"/>
<circle cx="80.21" cy="661.70" r="3.3" fill="#000"/>
<circle cx="91.78" cy="659.37" r="3.3" fill="#000"/>
<circle cx="99.50" cy="656.05" r="3.3" fill="#000"/>
<circle cx="107.21" cy="654.05" r="3.3" fill="#000"/>
<circle cx="118.78" cy="650.06" r="3.3" fill="#000"/>
<circle cx="126.50" cy="648.73" r="3.3" fill="#000"/>
<circle cx="134.21" cy="645.08" r="3.3" fill="#000"/>
<circle cx="145.78" cy="638.09" r="3.3" fill="#000"/>
<circle cx="153.50" cy="623.79" r="3.3" fill="#000"/>
<rect x="42.20" y="671.70" width="6.60" height="6.60" fill="#000"/>
<rect x="69.20" y="662.72" width="6.60" height="6.60" fill="#000"/>
<rect x="76.91" y="657.74" width="6.60" height="6.60" fill="#000"/>
<rect x="88.48" y="650.42" width="6.60" height="6.60" fill="#000"/>
<rect x="96.20" y="644.10" width="6.60" height="6.60" fill="#000"/>
<rect x="103.91" y="639.12" width="6.60" height="6.60" fill="#000"/>
<rect x="115.48" y="626.81" width="6.60" height="6.60" fill="#000"/>
<rect x="123.20" y="615.51" width="6.60" height="6.60" fill="#000"/>
<rect x="130.91" y="605.53" width="6.60" height="6.60" fill="#000"/>
<rect x="142.48" y="582.92" width="6.60" height="6.60" fill="#000"/>
<rect x="150.20" y="571.62" width="6.60" height="6.60" fill="#000"/>
<text x="73.70" y="556.80" font-size="11.6">LLC1 Control</text>
<text x="12.20" y="609.00" font-size="11.7" text-anchor="middle" transform="rotate(-90 12.20 609.00)">Tumor size (mm<tspan font-size="9.0" dy="-5.38">2</tspan><tspan dy="5.38">)</tspan></text>
<line x1="158.90" y1="574.00" x2="158.90" y2="623.50" stroke="#999" stroke-width="1.3"/>
<text x="162.30" y="599.00" font-size="7.8" text-anchor="middle" transform="rotate(90 162.30 599.00)">p&lt;0.0001</text>
<line x1="211.00" y1="542.00" x2="211.00" y2="675.00" stroke="#000" stroke-width="1"/>
<line x1="206.30" y1="675.00" x2="211.00" y2="675.00" stroke="#000" stroke-width="1"/>
<text x="204.30" y="679.30" font-size="12" text-anchor="end">0</text>
<line x1="206.30" y1="641.75" x2="211.00" y2="641.75" stroke="#000" stroke-width="1"/>
<text x="204.30" y="646.05" font-size="12" text-anchor="end">100</text>
<line x1="206.30" y1="608.50" x2="211.00" y2="608.50" stroke="#000" stroke-width="1"/>
<text x="204.30" y="612.80" font-size="12" text-anchor="end">200</text>
<line x1="206.30" y1="575.25" x2="211.00" y2="575.25" stroke="#000" stroke-width="1"/>
<text x="204.30" y="579.55" font-size="12" text-anchor="end">300</text>
<line x1="206.30" y1="542.00" x2="211.00" y2="542.00" stroke="#000" stroke-width="1"/>
<text x="204.30" y="546.30" font-size="12" text-anchor="end">400</text>
<line x1="211.00" y1="675.00" x2="331.00" y2="675.00" stroke="#000" stroke-width="1"/>
<line x1="211.00" y1="675.00" x2="211.00" y2="679.00" stroke="#000" stroke-width="1"/>
<text x="211.00" y="694.50" font-size="12" text-anchor="middle">0</text>
<line x1="251.00" y1="675.00" x2="251.00" y2="679.00" stroke="#000" stroke-width="1"/>
<text x="251.00" y="694.50" font-size="12" text-anchor="middle">10</text>
<line x1="291.00" y1="675.00" x2="291.00" y2="679.00" stroke="#000" stroke-width="1"/>
<text x="291.00" y="694.50" font-size="12" text-anchor="middle">20</text>
<line x1="331.00" y1="675.00" x2="331.00" y2="679.00" stroke="#000" stroke-width="1"/>
<text x="331.00" y="694.50" font-size="12" text-anchor="middle">30</text>
<text x="271.00" y="704.50" font-size="11.8" text-anchor="middle">Days</text>
<polyline points="211.00,675.00 243.00,669.35 251.00,661.70 267.00,651.73 275.00,647.40 283.00,641.42 295.00,632.44 303.00,625.79 311.00,615.82 323.00,600.52" fill="none" stroke="#d4107a" stroke-width="1.15"/>
<polyline points="211.00,675.00 243.00,669.35 251.00,661.70 267.00,649.40 275.00,644.41 283.00,638.76 295.00,627.45 303.00,615.15 311.00,600.19 323.00,597.53" fill="none" stroke="#d4107a" stroke-width="1.15"/>
<line x1="295.00" y1="629.78" x2="295.00" y2="635.10" stroke="#d4107a" stroke-width="0.9"/>
<line x1="292.50" y1="629.78" x2="297.50" y2="629.78" stroke="#d4107a" stroke-width="0.9"/>
<line x1="292.50" y1="635.10" x2="297.50" y2="635.10" stroke="#d4107a" stroke-width="0.9"/>
<line x1="303.00" y1="622.46" x2="303.00" y2="629.12" stroke="#d4107a" stroke-width="0.9"/>
<line x1="300.50" y1="622.46" x2="305.50" y2="622.46" stroke="#d4107a" stroke-width="0.9"/>
<line x1="300.50" y1="629.12" x2="305.50" y2="629.12" stroke="#d4107a" stroke-width="0.9"/>
<line x1="311.00" y1="611.16" x2="311.00" y2="620.47" stroke="#d4107a" stroke-width="0.9"/>
<line x1="308.50" y1="611.16" x2="313.50" y2="611.16" stroke="#d4107a" stroke-width="0.9"/>
<line x1="308.50" y1="620.47" x2="313.50" y2="620.47" stroke="#d4107a" stroke-width="0.9"/>
<line x1="323.00" y1="596.53" x2="323.00" y2="604.51" stroke="#d4107a" stroke-width="0.9"/>
<line x1="320.50" y1="596.53" x2="325.50" y2="596.53" stroke="#d4107a" stroke-width="0.9"/>
<line x1="320.50" y1="604.51" x2="325.50" y2="604.51" stroke="#d4107a" stroke-width="0.9"/>
<line x1="295.00" y1="624.79" x2="295.00" y2="630.11" stroke="#d4107a" stroke-width="0.9"/>
<line x1="292.50" y1="624.79" x2="297.50" y2="624.79" stroke="#d4107a" stroke-width="0.9"/>
<line x1="292.50" y1="630.11" x2="297.50" y2="630.11" stroke="#d4107a" stroke-width="0.9"/>
<line x1="303.00" y1="611.16" x2="303.00" y2="619.14" stroke="#d4107a" stroke-width="0.9"/>
<line x1="300.50" y1="611.16" x2="305.50" y2="611.16" stroke="#d4107a" stroke-width="0.9"/>
<line x1="300.50" y1="619.14" x2="305.50" y2="619.14" stroke="#d4107a" stroke-width="0.9"/>
<line x1="311.00" y1="594.20" x2="311.00" y2="606.17" stroke="#d4107a" stroke-width="0.9"/>
<line x1="308.50" y1="594.20" x2="313.50" y2="594.20" stroke="#d4107a" stroke-width="0.9"/>
<line x1="308.50" y1="606.17" x2="313.50" y2="606.17" stroke="#d4107a" stroke-width="0.9"/>
<line x1="323.00" y1="593.54" x2="323.00" y2="601.52" stroke="#d4107a" stroke-width="0.9"/>
<line x1="320.50" y1="593.54" x2="325.50" y2="593.54" stroke="#d4107a" stroke-width="0.9"/>
<line x1="320.50" y1="601.52" x2="325.50" y2="601.52" stroke="#d4107a" stroke-width="0.9"/>
<circle cx="211.00" cy="675.00" r="3.3" fill="#d4107a"/>
<circle cx="243.00" cy="669.35" r="3.3" fill="#d4107a"/>
<circle cx="251.00" cy="661.70" r="3.3" fill="#d4107a"/>
<circle cx="267.00" cy="651.73" r="3.3" fill="#d4107a"/>
<circle cx="275.00" cy="647.40" r="3.3" fill="#d4107a"/>
<circle cx="283.00" cy="641.42" r="3.3" fill="#d4107a"/>
<circle cx="295.00" cy="632.44" r="3.3" fill="#d4107a"/>
<circle cx="303.00" cy="625.79" r="3.3" fill="#d4107a"/>
<circle cx="311.00" cy="615.82" r="3.3" fill="#d4107a"/>
<circle cx="323.00" cy="600.52" r="3.3" fill="#d4107a"/>
<rect x="207.70" y="671.70" width="6.60" height="6.60" fill="#d4107a"/>
<rect x="239.70" y="666.05" width="6.60" height="6.60" fill="#d4107a"/>
<rect x="247.70" y="658.40" width="6.60" height="6.60" fill="#d4107a"/>
<rect x="263.70" y="646.10" width="6.60" height="6.60" fill="#d4107a"/>
<rect x="271.70" y="641.11" width="6.60" height="6.60" fill="#d4107a"/>
<rect x="279.70" y="635.46" width="6.60" height="6.60" fill="#d4107a"/>
<rect x="291.70" y="624.15" width="6.60" height="6.60" fill="#d4107a"/>
<rect x="299.70" y="611.85" width="6.60" height="6.60" fill="#d4107a"/>
<rect x="307.70" y="596.89" width="6.60" height="6.60" fill="#d4107a"/>
<rect x="319.70" y="594.23" width="6.60" height="6.60" fill="#d4107a"/>
<text x="241.50" y="557.00" font-size="11.6" fill="#d4107a">LLC1 <tspan font-style="italic">Txnip</tspan><tspan font-size="8.4" dy="-4.87">KD2</tspan></text>
<text x="331.30" y="600.70" font-size="9.7">n.s.</text>
<line x1="378.70" y1="542.00" x2="378.70" y2="675.00" stroke="#000" stroke-width="1"/>
<line x1="374.00" y1="675.00" x2="378.70" y2="675.00" stroke="#000" stroke-width="1"/>
<text x="372.00" y="679.30" font-size="12" text-anchor="end">0</text>
<line x1="374.00" y1="641.75" x2="378.70" y2="641.75" stroke="#000" stroke-width="1"/>
<text x="372.00" y="646.05" font-size="12" text-anchor="end">100</text>
<line x1="374.00" y1="608.50" x2="378.70" y2="608.50" stroke="#000" stroke-width="1"/>
<text x="372.00" y="612.80" font-size="12" text-anchor="end">200</text>
<line x1="374.00" y1="575.25" x2="378.70" y2="575.25" stroke="#000" stroke-width="1"/>
<text x="372.00" y="579.55" font-size="12" text-anchor="end">300</text>
<line x1="374.00" y1="542.00" x2="378.70" y2="542.00" stroke="#000" stroke-width="1"/>
<text x="372.00" y="546.30" font-size="12" text-anchor="end">400</text>
<line x1="378.70" y1="675.00" x2="498.20" y2="675.00" stroke="#000" stroke-width="1"/>
<line x1="378.70" y1="675.00" x2="378.70" y2="679.00" stroke="#000" stroke-width="1"/>
<text x="378.70" y="694.50" font-size="12" text-anchor="middle">0</text>
<line x1="418.55" y1="675.00" x2="418.55" y2="679.00" stroke="#000" stroke-width="1"/>
<text x="418.55" y="694.50" font-size="12" text-anchor="middle">10</text>
<line x1="458.40" y1="675.00" x2="458.40" y2="679.00" stroke="#000" stroke-width="1"/>
<text x="458.40" y="694.50" font-size="12" text-anchor="middle">20</text>
<line x1="498.25" y1="675.00" x2="498.25" y2="679.00" stroke="#000" stroke-width="1"/>
<text x="498.25" y="694.50" font-size="12" text-anchor="middle">30</text>
<text x="438.45" y="704.50" font-size="11.8" text-anchor="middle">Days</text>
<polyline points="378.70,675.00 410.58,665.69 418.55,661.70 426.52,658.71 434.49,651.06 442.46,646.07 454.41,638.76 462.38,631.11 470.36,628.12 482.31,615.15" fill="none" stroke="#6a0a5e" stroke-width="1.15"/>
<polyline points="378.70,675.00 410.58,665.69 418.55,661.70 426.52,657.04 434.49,650.06 442.46,643.75 454.41,634.43 462.38,625.79 470.36,617.48 482.31,601.85" fill="none" stroke="#6a0a5e" stroke-width="1.15"/>
<line x1="454.41" y1="635.43" x2="454.41" y2="642.08" stroke="#6a0a5e" stroke-width="0.9"/>
<line x1="451.91" y1="635.43" x2="456.91" y2="635.43" stroke="#6a0a5e" stroke-width="0.9"/>
<line x1="451.91" y1="642.08" x2="456.91" y2="642.08" stroke="#6a0a5e" stroke-width="0.9"/>
<line x1="462.38" y1="626.46" x2="462.38" y2="635.76" stroke="#6a0a5e" stroke-width="0.9"/>
<line x1="459.88" y1="626.46" x2="464.88" y2="626.46" stroke="#6a0a5e" stroke-width="0.9"/>
<line x1="459.88" y1="635.76" x2="464.88" y2="635.76" stroke="#6a0a5e" stroke-width="0.9"/>
<line x1="470.36" y1="623.46" x2="470.36" y2="632.77" stroke="#6a0a5e" stroke-width="0.9"/>
<line x1="467.86" y1="623.46" x2="472.86" y2="623.46" stroke="#6a0a5e" stroke-width="0.9"/>
<line x1="467.86" y1="632.77" x2="472.86" y2="632.77" stroke="#6a0a5e" stroke-width="0.9"/>
<line x1="482.31" y1="607.83" x2="482.31" y2="622.47" stroke="#6a0a5e" stroke-width="0.9"/>
<line x1="479.81" y1="607.83" x2="484.81" y2="607.83" stroke="#6a0a5e" stroke-width="0.9"/>
<line x1="479.81" y1="622.47" x2="484.81" y2="622.47" stroke="#6a0a5e" stroke-width="0.9"/>
<line x1="454.41" y1="629.45" x2="454.41" y2="639.42" stroke="#6a0a5e" stroke-width="0.9"/>
<line x1="451.91" y1="629.45" x2="456.91" y2="629.45" stroke="#6a0a5e" stroke-width="0.9"/>
<line x1="451.91" y1="639.42" x2="456.91" y2="639.42" stroke="#6a0a5e" stroke-width="0.9"/>
<line x1="462.38" y1="619.80" x2="462.38" y2="631.77" stroke="#6a0a5e" stroke-width="0.9"/>
<line x1="459.88" y1="619.80" x2="464.88" y2="619.80" stroke="#6a0a5e" stroke-width="0.9"/>
<line x1="459.88" y1="631.77" x2="464.88" y2="631.77" stroke="#6a0a5e" stroke-width="0.9"/>
<line x1="470.36" y1="611.49" x2="470.36" y2="623.46" stroke="#6a0a5e" stroke-width="0.9"/>
<line x1="467.86" y1="611.49" x2="472.86" y2="611.49" stroke="#6a0a5e" stroke-width="0.9"/>
<line x1="467.86" y1="623.46" x2="472.86" y2="623.46" stroke="#6a0a5e" stroke-width="0.9"/>
<line x1="482.31" y1="593.54" x2="482.31" y2="610.16" stroke="#6a0a5e" stroke-width="0.9"/>
<line x1="479.81" y1="593.54" x2="484.81" y2="593.54" stroke="#6a0a5e" stroke-width="0.9"/>
<line x1="479.81" y1="610.16" x2="484.81" y2="610.16" stroke="#6a0a5e" stroke-width="0.9"/>
<circle cx="378.70" cy="675.00" r="3.3" fill="#6a0a5e"/>
<circle cx="410.58" cy="665.69" r="3.3" fill="#6a0a5e"/>
<circle cx="418.55" cy="661.70" r="3.3" fill="#6a0a5e"/>
<circle cx="426.52" cy="658.71" r="3.3" fill="#6a0a5e"/>
<circle cx="434.49" cy="651.06" r="3.3" fill="#6a0a5e"/>
<circle cx="442.46" cy="646.07" r="3.3" fill="#6a0a5e"/>
<circle cx="454.41" cy="638.76" r="3.3" fill="#6a0a5e"/>
<circle cx="462.38" cy="631.11" r="3.3" fill="#6a0a5e"/>
<circle cx="470.36" cy="628.12" r="3.3" fill="#6a0a5e"/>
<circle cx="482.31" cy="615.15" r="3.3" fill="#6a0a5e"/>
<rect x="375.40" y="671.70" width="6.60" height="6.60" fill="#6a0a5e"/>
<rect x="407.28" y="662.39" width="6.60" height="6.60" fill="#6a0a5e"/>
<rect x="415.25" y="658.40" width="6.60" height="6.60" fill="#6a0a5e"/>
<rect x="423.22" y="653.75" width="6.60" height="6.60" fill="#6a0a5e"/>
<rect x="431.19" y="646.76" width="6.60" height="6.60" fill="#6a0a5e"/>
<rect x="439.16" y="640.45" width="6.60" height="6.60" fill="#6a0a5e"/>
<rect x="451.11" y="631.13" width="6.60" height="6.60" fill="#6a0a5e"/>
<rect x="459.08" y="622.49" width="6.60" height="6.60" fill="#6a0a5e"/>
<rect x="467.06" y="614.18" width="6.60" height="6.60" fill="#6a0a5e"/>
<rect x="479.01" y="598.55" width="6.60" height="6.60" fill="#6a0a5e"/>
<text x="406.50" y="557.00" font-size="11.6" fill="#6a0a5e">LLC1 <tspan font-style="italic">Aim2</tspan><tspan font-size="8.4" dy="-4.87">KD1</tspan></text>
<line x1="489.00" y1="600.20" x2="489.00" y2="610.00" stroke="#777" stroke-width="1.4"/>
<text x="491.30" y="606.60" font-size="9.7">n.s.</text>
<line x1="550.20" y1="542.00" x2="550.20" y2="675.00" stroke="#000" stroke-width="1"/>
<line x1="545.50" y1="675.00" x2="550.20" y2="675.00" stroke="#000" stroke-width="1"/>
<text x="543.50" y="679.30" font-size="12" text-anchor="end">0</text>
<line x1="545.50" y1="641.75" x2="550.20" y2="641.75" stroke="#000" stroke-width="1"/>
<text x="543.50" y="646.05" font-size="12" text-anchor="end">100</text>
<line x1="545.50" y1="608.50" x2="550.20" y2="608.50" stroke="#000" stroke-width="1"/>
<text x="543.50" y="612.80" font-size="12" text-anchor="end">200</text>
<line x1="545.50" y1="575.25" x2="550.20" y2="575.25" stroke="#000" stroke-width="1"/>
<text x="543.50" y="579.55" font-size="12" text-anchor="end">300</text>
<line x1="545.50" y1="542.00" x2="550.20" y2="542.00" stroke="#000" stroke-width="1"/>
<text x="543.50" y="546.30" font-size="12" text-anchor="end">400</text>
<line x1="550.20" y1="675.00" x2="666.50" y2="675.00" stroke="#000" stroke-width="1"/>
<line x1="550.20" y1="675.00" x2="550.20" y2="679.00" stroke="#000" stroke-width="1"/>
<text x="550.20" y="694.50" font-size="12" text-anchor="middle">0</text>
<line x1="583.37" y1="675.00" x2="583.37" y2="679.00" stroke="#000" stroke-width="1"/>
<text x="583.37" y="694.50" font-size="12" text-anchor="middle">10</text>
<line x1="616.54" y1="675.00" x2="616.54" y2="679.00" stroke="#000" stroke-width="1"/>
<text x="616.54" y="694.50" font-size="12" text-anchor="middle">20</text>
<line x1="649.71" y1="675.00" x2="649.71" y2="679.00" stroke="#000" stroke-width="1"/>
<text x="649.71" y="694.50" font-size="12" text-anchor="middle">30</text>
<text x="608.35" y="704.50" font-size="11.8" text-anchor="middle">Days</text>
<polyline points="550.20,675.00 573.42,670.01 580.05,666.36 590.00,660.04 596.64,654.38 603.27,651.39 613.22,645.41 619.86,641.42 626.49,636.10 636.44,616.15 643.08,603.18 649.71,591.21" fill="none" stroke="#1010c8" stroke-width="1.15"/>
<polyline points="550.20,675.00 573.42,670.01 580.05,666.36 590.00,660.04 596.64,657.04 603.27,652.39 613.22,645.41 619.86,636.10 626.49,628.78 636.44,604.51 643.08,594.53 649.71,588.22" fill="none" stroke="#1010c8" stroke-width="1.15"/>
<line x1="619.86" y1="638.76" x2="619.86" y2="644.08" stroke="#1010c8" stroke-width="0.9"/>
<line x1="617.36" y1="638.76" x2="622.36" y2="638.76" stroke="#1010c8" stroke-width="0.9"/>
<line x1="617.36" y1="644.08" x2="622.36" y2="644.08" stroke="#1010c8" stroke-width="0.9"/>
<line x1="626.49" y1="633.44" x2="626.49" y2="638.76" stroke="#1010c8" stroke-width="0.9"/>
<line x1="623.99" y1="633.44" x2="628.99" y2="633.44" stroke="#1010c8" stroke-width="0.9"/>
<line x1="623.99" y1="638.76" x2="628.99" y2="638.76" stroke="#1010c8" stroke-width="0.9"/>
<line x1="636.44" y1="612.16" x2="636.44" y2="620.14" stroke="#1010c8" stroke-width="0.9"/>
<line x1="633.94" y1="612.16" x2="638.94" y2="612.16" stroke="#1010c8" stroke-width="0.9"/>
<line x1="633.94" y1="620.14" x2="638.94" y2="620.14" stroke="#1010c8" stroke-width="0.9"/>
<line x1="643.08" y1="598.52" x2="643.08" y2="607.83" stroke="#1010c8" stroke-width="0.9"/>
<line x1="640.58" y1="598.52" x2="645.58" y2="598.52" stroke="#1010c8" stroke-width="0.9"/>
<line x1="640.58" y1="607.83" x2="645.58" y2="607.83" stroke="#1010c8" stroke-width="0.9"/>
<line x1="649.71" y1="586.56" x2="649.71" y2="595.87" stroke="#1010c8" stroke-width="0.9"/>
<line x1="647.21" y1="586.56" x2="652.21" y2="586.56" stroke="#1010c8" stroke-width="0.9"/>
<line x1="647.21" y1="595.87" x2="652.21" y2="595.87" stroke="#1010c8" stroke-width="0.9"/>
<line x1="619.86" y1="632.77" x2="619.86" y2="639.42" stroke="#1010c8" stroke-width="0.9"/>
<line x1="617.36" y1="632.77" x2="622.36" y2="632.77" stroke="#1010c8" stroke-width="0.9"/>
<line x1="617.36" y1="639.42" x2="622.36" y2="639.42" stroke="#1010c8" stroke-width="0.9"/>
<line x1="626.49" y1="625.46" x2="626.49" y2="632.11" stroke="#1010c8" stroke-width="0.9"/>
<line x1="623.99" y1="625.46" x2="628.99" y2="625.46" stroke="#1010c8" stroke-width="0.9"/>
<line x1="623.99" y1="632.11" x2="628.99" y2="632.11" stroke="#1010c8" stroke-width="0.9"/>
<line x1="636.44" y1="599.86" x2="636.44" y2="609.16" stroke="#1010c8" stroke-width="0.9"/>
<line x1="633.94" y1="599.86" x2="638.94" y2="599.86" stroke="#1010c8" stroke-width="0.9"/>
<line x1="633.94" y1="609.16" x2="638.94" y2="609.16" stroke="#1010c8" stroke-width="0.9"/>
<line x1="643.08" y1="588.55" x2="643.08" y2="600.52" stroke="#1010c8" stroke-width="0.9"/>
<line x1="640.58" y1="588.55" x2="645.58" y2="588.55" stroke="#1010c8" stroke-width="0.9"/>
<line x1="640.58" y1="600.52" x2="645.58" y2="600.52" stroke="#1010c8" stroke-width="0.9"/>
<line x1="649.71" y1="582.23" x2="649.71" y2="594.20" stroke="#1010c8" stroke-width="0.9"/>
<line x1="647.21" y1="582.23" x2="652.21" y2="582.23" stroke="#1010c8" stroke-width="0.9"/>
<line x1="647.21" y1="594.20" x2="652.21" y2="594.20" stroke="#1010c8" stroke-width="0.9"/>
<circle cx="550.20" cy="675.00" r="3.3" fill="#1010c8"/>
<circle cx="573.42" cy="670.01" r="3.3" fill="#1010c8"/>
<circle cx="580.05" cy="666.36" r="3.3" fill="#1010c8"/>
<circle cx="590.00" cy="660.04" r="3.3" fill="#1010c8"/>
<circle cx="596.64" cy="654.38" r="3.3" fill="#1010c8"/>
<circle cx="603.27" cy="651.39" r="3.3" fill="#1010c8"/>
<circle cx="613.22" cy="645.41" r="3.3" fill="#1010c8"/>
<circle cx="619.86" cy="641.42" r="3.3" fill="#1010c8"/>
<circle cx="626.49" cy="636.10" r="3.3" fill="#1010c8"/>
<circle cx="636.44" cy="616.15" r="3.3" fill="#1010c8"/>
<circle cx="643.08" cy="603.18" r="3.3" fill="#1010c8"/>
<circle cx="649.71" cy="591.21" r="3.3" fill="#1010c8"/>
<rect x="546.90" y="671.70" width="6.60" height="6.60" fill="#1010c8"/>
<rect x="570.12" y="666.71" width="6.60" height="6.60" fill="#1010c8"/>
<rect x="576.75" y="663.06" width="6.60" height="6.60" fill="#1010c8"/>
<rect x="586.70" y="656.74" width="6.60" height="6.60" fill="#1010c8"/>
<rect x="593.34" y="653.75" width="6.60" height="6.60" fill="#1010c8"/>
<rect x="599.97" y="649.09" width="6.60" height="6.60" fill="#1010c8"/>
<rect x="609.92" y="642.11" width="6.60" height="6.60" fill="#1010c8"/>
<rect x="616.56" y="632.80" width="6.60" height="6.60" fill="#1010c8"/>
<rect x="623.19" y="625.48" width="6.60" height="6.60" fill="#1010c8"/>
<rect x="633.14" y="601.21" width="6.60" height="6.60" fill="#1010c8"/>
<rect x="639.78" y="591.24" width="6.60" height="6.60" fill="#1010c8"/>
<rect x="646.41" y="584.92" width="6.60" height="6.60" fill="#1010c8"/>
<text x="573.50" y="556.20" font-size="11.6" fill="#1010c8">LLC1 <tspan font-style="italic">Casp1</tspan><tspan font-size="8.4" dy="-4.87">KD1</tspan></text>
<line x1="654.30" y1="583.40" x2="654.30" y2="592.50" stroke="#222" stroke-width="1.1"/>
<text x="658.40" y="590.00" font-size="9.7">n.s.</text>
<line x1="47.50" y1="771.20" x2="47.50" y2="903.20" stroke="#000" stroke-width="1"/>
<line x1="42.80" y1="903.20" x2="47.50" y2="903.20" stroke="#000" stroke-width="1"/>
<text x="40.80" y="907.50" font-size="12" text-anchor="end">0</text>
<line x1="42.80" y1="870.20" x2="47.50" y2="870.20" stroke="#000" stroke-width="1"/>
<text x="40.80" y="874.50" font-size="12" text-anchor="end">100</text>
<line x1="42.80" y1="837.20" x2="47.50" y2="837.20" stroke="#000" stroke-width="1"/>
<text x="40.80" y="841.50" font-size="12" text-anchor="end">200</text>
<line x1="42.80" y1="804.20" x2="47.50" y2="804.20" stroke="#000" stroke-width="1"/>
<text x="40.80" y="808.50" font-size="12" text-anchor="end">300</text>
<line x1="42.80" y1="771.20" x2="47.50" y2="771.20" stroke="#000" stroke-width="1"/>
<text x="40.80" y="775.50" font-size="12" text-anchor="end">400</text>
<line x1="47.50" y1="903.20" x2="163.70" y2="903.20" stroke="#000" stroke-width="1"/>
<line x1="47.50" y1="903.20" x2="47.50" y2="907.20" stroke="#000" stroke-width="1"/>
<text x="47.50" y="922.70" font-size="12" text-anchor="middle">0</text>
<line x1="80.67" y1="903.20" x2="80.67" y2="907.20" stroke="#000" stroke-width="1"/>
<text x="80.67" y="922.70" font-size="12" text-anchor="middle">10</text>
<line x1="113.84" y1="903.20" x2="113.84" y2="907.20" stroke="#000" stroke-width="1"/>
<text x="113.84" y="922.70" font-size="12" text-anchor="middle">20</text>
<line x1="147.01" y1="903.20" x2="147.01" y2="907.20" stroke="#000" stroke-width="1"/>
<text x="147.01" y="922.70" font-size="12" text-anchor="middle">30</text>
<text x="105.60" y="932.70" font-size="11.8" text-anchor="middle">Days</text>
<polyline points="47.50,903.20 70.72,896.93 77.35,893.63 87.30,887.03 93.94,886.70 100.57,885.05 110.52,880.10 117.16,879.11 123.79,877.13 133.74,860.96 140.38,852.05 147.01,839.51 156.96,824.00" fill="none" stroke="#10829c" stroke-width="1.15"/>
<polyline points="47.50,903.20 70.72,898.25 77.35,894.62 87.30,890.66 93.94,886.70 100.57,883.40 110.52,879.44 117.16,874.49 123.79,864.92 133.74,847.76 140.38,836.54 147.01,831.92 156.96,818.72" fill="none" stroke="#10829c" stroke-width="1.15"/>
<line x1="133.74" y1="857.66" x2="133.74" y2="864.26" stroke="#10829c" stroke-width="0.9"/>
<line x1="131.24" y1="857.66" x2="136.24" y2="857.66" stroke="#10829c" stroke-width="0.9"/>
<line x1="131.24" y1="864.26" x2="136.24" y2="864.26" stroke="#10829c" stroke-width="0.9"/>
<line x1="140.38" y1="847.43" x2="140.38" y2="856.67" stroke="#10829c" stroke-width="0.9"/>
<line x1="137.88" y1="847.43" x2="142.88" y2="847.43" stroke="#10829c" stroke-width="0.9"/>
<line x1="137.88" y1="856.67" x2="142.88" y2="856.67" stroke="#10829c" stroke-width="0.9"/>
<line x1="147.01" y1="834.23" x2="147.01" y2="844.79" stroke="#10829c" stroke-width="0.9"/>
<line x1="144.51" y1="834.23" x2="149.51" y2="834.23" stroke="#10829c" stroke-width="0.9"/>
<line x1="144.51" y1="844.79" x2="149.51" y2="844.79" stroke="#10829c" stroke-width="0.9"/>
<line x1="156.96" y1="819.38" x2="156.96" y2="828.62" stroke="#10829c" stroke-width="0.9"/>
<line x1="154.46" y1="819.38" x2="159.46" y2="819.38" stroke="#10829c" stroke-width="0.9"/>
<line x1="154.46" y1="828.62" x2="159.46" y2="828.62" stroke="#10829c" stroke-width="0.9"/>
<line x1="117.16" y1="872.51" x2="117.16" y2="876.47" stroke="#10829c" stroke-width="0.9"/>
<line x1="114.66" y1="872.51" x2="119.66" y2="872.51" stroke="#10829c" stroke-width="0.9"/>
<line x1="114.66" y1="876.47" x2="119.66" y2="876.47" stroke="#10829c" stroke-width="0.9"/>
<line x1="123.79" y1="861.62" x2="123.79" y2="868.22" stroke="#10829c" stroke-width="0.9"/>
<line x1="121.29" y1="861.62" x2="126.29" y2="861.62" stroke="#10829c" stroke-width="0.9"/>
<line x1="121.29" y1="868.22" x2="126.29" y2="868.22" stroke="#10829c" stroke-width="0.9"/>
<line x1="133.74" y1="843.14" x2="133.74" y2="852.38" stroke="#10829c" stroke-width="0.9"/>
<line x1="131.24" y1="843.14" x2="136.24" y2="843.14" stroke="#10829c" stroke-width="0.9"/>
<line x1="131.24" y1="852.38" x2="136.24" y2="852.38" stroke="#10829c" stroke-width="0.9"/>
<line x1="140.38" y1="831.26" x2="140.38" y2="841.82" stroke="#10829c" stroke-width="0.9"/>
<line x1="137.88" y1="831.26" x2="142.88" y2="831.26" stroke="#10829c" stroke-width="0.9"/>
<line x1="137.88" y1="841.82" x2="142.88" y2="841.82" stroke="#10829c" stroke-width="0.9"/>
<line x1="147.01" y1="818.72" x2="147.01" y2="845.12" stroke="#10829c" stroke-width="0.9"/>
<line x1="144.51" y1="818.72" x2="149.51" y2="818.72" stroke="#10829c" stroke-width="0.9"/>
<line x1="144.51" y1="845.12" x2="149.51" y2="845.12" stroke="#10829c" stroke-width="0.9"/>
<line x1="156.96" y1="812.78" x2="156.96" y2="824.66" stroke="#10829c" stroke-width="0.9"/>
<line x1="154.46" y1="812.78" x2="159.46" y2="812.78" stroke="#10829c" stroke-width="0.9"/>
<line x1="154.46" y1="824.66" x2="159.46" y2="824.66" stroke="#10829c" stroke-width="0.9"/>
<circle cx="47.50" cy="903.20" r="3.3" fill="#10829c"/>
<circle cx="70.72" cy="896.93" r="3.3" fill="#10829c"/>
<circle cx="77.35" cy="893.63" r="3.3" fill="#10829c"/>
<circle cx="87.30" cy="887.03" r="3.3" fill="#10829c"/>
<circle cx="93.94" cy="886.70" r="3.3" fill="#10829c"/>
<circle cx="100.57" cy="885.05" r="3.3" fill="#10829c"/>
<circle cx="110.52" cy="880.10" r="3.3" fill="#10829c"/>
<circle cx="117.16" cy="879.11" r="3.3" fill="#10829c"/>
<circle cx="123.79" cy="877.13" r="3.3" fill="#10829c"/>
<circle cx="133.74" cy="860.96" r="3.3" fill="#10829c"/>
<circle cx="140.38" cy="852.05" r="3.3" fill="#10829c"/>
<circle cx="147.01" cy="839.51" r="3.3" fill="#10829c"/>
<circle cx="156.96" cy="824.00" r="3.3" fill="#10829c"/>
<rect x="44.20" y="899.90" width="6.60" height="6.60" fill="#10829c"/>
<rect x="67.42" y="894.95" width="6.60" height="6.60" fill="#10829c"/>
<rect x="74.05" y="891.32" width="6.60" height="6.60" fill="#10829c"/>
<rect x="84.00" y="887.36" width="6.60" height="6.60" fill="#10829c"/>
<rect x="90.64" y="883.40" width="6.60" height="6.60" fill="#10829c"/>
<rect x="97.27" y="880.10" width="6.60" height="6.60" fill="#10829c"/>
<rect x="107.22" y="876.14" width="6.60" height="6.60" fill="#10829c"/>
<rect x="113.86" y="871.19" width="6.60" height="6.60" fill="#10829c"/>
<rect x="120.49" y="861.62" width="6.60" height="6.60" fill="#10829c"/>
<rect x="130.44" y="844.46" width="6.60" height="6.60" fill="#10829c"/>
<rect x="137.08" y="833.24" width="6.60" height="6.60" fill="#10829c"/>
<rect x="143.71" y="828.62" width="6.60" height="6.60" fill="#10829c"/>
<rect x="153.66" y="815.42" width="6.60" height="6.60" fill="#10829c"/>
<text x="77.50" y="782.50" font-size="11.6" fill="#10829c">LLC1 <tspan font-style="italic">Il1b</tspan><tspan font-size="8.4" dy="-4.87">KD2</tspan></text>
<text x="13.10" y="837.60" font-size="12.4" text-anchor="middle" transform="rotate(-90 13.10 837.60)">Tumor size (mm<tspan font-size="9.5" dy="-5.70">2</tspan><tspan dy="5.70">)</tspan></text>
<text x="164.30" y="820.00" font-size="9.7">n.s.</text>
<text x="183.20" y="733.30" font-size="22" font-weight="bold">J</text>
<text x="251.50" y="723.00" font-size="8.2">CDDP/Pem/MEKi</text>
<line x1="253.50" y1="727.50" x2="313.50" y2="727.50" stroke="#000" stroke-width="0.9"/>
<text x="208.50" y="736.20" font-size="8.5">Hours:</text>
<text x="250.50" y="736.20" font-size="8.5" text-anchor="middle">0</text>
<text x="271.00" y="736.20" font-size="8.5" text-anchor="middle">2</text>
<text x="292.70" y="736.20" font-size="8.5" text-anchor="middle">4</text>
<text x="314.00" y="736.20" font-size="8.5" text-anchor="middle">6</text>
<svg x="237.20" y="739.20" width="90.20" height="15.80" overflow="hidden">
<rect x="0.00" y="0.00" width="90.20" height="15.80" fill="#cdcdcd"/>
<rect x="-0.20" y="-0.20" width="25.00" height="17.00" fill="#c0c0c0" opacity="0.9" filter="url(#bl2)"/>
<rect x="24.50" y="-0.20" width="18.30" height="17.00" fill="#6e6e6e" opacity="1" filter="url(#bl2)"/>
<rect x="24.80" y="2.80" width="18.00" height="3.50" fill="#333" opacity="0.7" filter="url(#bl2)"/>
<rect x="24.80" y="9.30" width="18.00" height="2.50" fill="#3a3a3a" opacity="0.6" filter="url(#bl2)"/>
<rect x="46.80" y="-0.20" width="21.00" height="17.00" fill="#c4c4c4" opacity="0.8" filter="url(#bl2)"/>
<rect x="67.80" y="-0.20" width="23.00" height="17.00" fill="#d6d6d6" opacity="0.8" filter="url(#bl2)"/>
<rect width="90.20" height="15.80" filter="url(#nz)" opacity="0.2"/>
</svg>
<rect x="237.20" y="739.20" width="90.20" height="15.80" fill="none" stroke="#000" stroke-width="1"/>
<svg x="237.20" y="757.60" width="90.20" height="14.60" overflow="hidden">
<rect x="0.00" y="0.00" width="90.20" height="14.60" fill="#b4b4b4"/>
<rect x="-0.20" y="-0.60" width="25.00" height="16.00" fill="#c6c6c6" opacity="0.8" filter="url(#bl2)"/>
<rect x="27.80" y="5.40" width="41.00" height="7.50" fill="#8a8a8a" opacity="0.8" filter="url(#bl2)"/>
<rect x="68.80" y="-0.60" width="22.00" height="16.00" fill="#acacac" opacity="0.6" filter="url(#bl2)"/>
<rect width="90.20" height="14.60" filter="url(#nz)" opacity="0.2"/>
</svg>
<rect x="237.20" y="757.60" width="90.20" height="14.60" fill="none" stroke="#000" stroke-width="1"/>
<text x="234.70" y="749.50" font-size="8.5" text-anchor="end">H460</text>
<text x="234.70" y="767.50" font-size="8.5" text-anchor="end">H1299</text>
<line x1="329.00" y1="747.00" x2="331.50" y2="747.00" stroke="#000" stroke-width="0.8"/>
<text x="333.50" y="750.00" font-size="8.5">17</text>
<line x1="329.00" y1="765.00" x2="331.50" y2="765.00" stroke="#000" stroke-width="0.8"/>
<text x="333.50" y="768.00" font-size="8.5">17</text>
<text x="283.00" y="783.70" font-size="8.5" text-anchor="middle">IL-1β</text>
<line x1="226.50" y1="781.50" x2="226.50" y2="905.00" stroke="#000" stroke-width="1"/>
<line x1="221.80" y1="781.50" x2="226.50" y2="781.50" stroke="#000" stroke-width="1"/>
<text x="220.30" y="785.82" font-size="12" text-anchor="end">25</text>
<line x1="221.80" y1="806.20" x2="226.50" y2="806.20" stroke="#000" stroke-width="1"/>
<text x="220.30" y="810.52" font-size="12" text-anchor="end">20</text>
<line x1="221.80" y1="831.20" x2="226.50" y2="831.20" stroke="#000" stroke-width="1"/>
<text x="220.30" y="835.52" font-size="12" text-anchor="end">15</text>
<line x1="221.80" y1="855.70" x2="226.50" y2="855.70" stroke="#000" stroke-width="1"/>
<text x="220.30" y="860.02" font-size="12" text-anchor="end">10</text>
<line x1="221.80" y1="880.70" x2="226.50" y2="880.70" stroke="#000" stroke-width="1"/>
<text x="220.30" y="885.02" font-size="12" text-anchor="end">5</text>
<line x1="221.80" y1="905.00" x2="226.50" y2="905.00" stroke="#000" stroke-width="1"/>
<text x="220.30" y="909.32" font-size="12" text-anchor="end">0</text>
<line x1="226.50" y1="905.00" x2="332.20" y2="905.00" stroke="#000" stroke-width="1"/>
<line x1="236.50" y1="905.00" x2="236.50" y2="908.50" stroke="#000" stroke-width="1"/>
<line x1="258.00" y1="905.00" x2="258.00" y2="908.50" stroke="#000" stroke-width="1"/>
<line x1="279.00" y1="905.00" x2="279.00" y2="908.50" stroke="#000" stroke-width="1"/>
<line x1="300.50" y1="905.00" x2="300.50" y2="908.50" stroke="#000" stroke-width="1"/>
<line x1="321.70" y1="905.00" x2="321.70" y2="908.50" stroke="#000" stroke-width="1"/>
<line x1="226.50" y1="846.50" x2="332.00" y2="846.50" stroke="#ccc" stroke-width="0.8" stroke-dasharray="1 2"/>
<polyline points="236.5,842 258,822 279,813.2 300.5,830.2 321.7,831.2" fill="none" stroke="#1a1aff" stroke-width="1.2"/>
<polyline points="236.5,845.7 258,844 279,822 300.5,820 321.7,845.7" fill="none" stroke="#0a0a7a" stroke-width="1.2"/>
<line x1="236.50" y1="834.00" x2="236.50" y2="850.00" stroke="#1a1aff" stroke-width="1"/>
<line x1="233.50" y1="834.00" x2="239.50" y2="834.00" stroke="#1a1aff" stroke-width="1"/>
<line x1="233.50" y1="850.00" x2="239.50" y2="850.00" stroke="#1a1aff" stroke-width="1"/>
<line x1="258.00" y1="814.00" x2="258.00" y2="830.00" stroke="#1a1aff" stroke-width="1"/>
<line x1="255.00" y1="814.00" x2="261.00" y2="814.00" stroke="#1a1aff" stroke-width="1"/>
<line x1="255.00" y1="830.00" x2="261.00" y2="830.00" stroke="#1a1aff" stroke-width="1"/>
<line x1="279.00" y1="803.00" x2="279.00" y2="822.00" stroke="#1a1aff" stroke-width="1"/>
<line x1="276.00" y1="803.00" x2="282.00" y2="803.00" stroke="#1a1aff" stroke-width="1"/>
<line x1="276.00" y1="822.00" x2="282.00" y2="822.00" stroke="#1a1aff" stroke-width="1"/>
<line x1="300.50" y1="826.50" x2="300.50" y2="834.00" stroke="#1a1aff" stroke-width="1"/>
<line x1="297.50" y1="826.50" x2="303.50" y2="826.50" stroke="#1a1aff" stroke-width="1"/>
<line x1="297.50" y1="834.00" x2="303.50" y2="834.00" stroke="#1a1aff" stroke-width="1"/>
<line x1="321.70" y1="824.50" x2="321.70" y2="837.50" stroke="#1a1aff" stroke-width="1"/>
<line x1="318.70" y1="824.50" x2="324.70" y2="824.50" stroke="#1a1aff" stroke-width="1"/>
<line x1="318.70" y1="837.50" x2="324.70" y2="837.50" stroke="#1a1aff" stroke-width="1"/>
<line x1="236.50" y1="842.00" x2="236.50" y2="852.00" stroke="#0a0a7a" stroke-width="1"/>
<line x1="233.50" y1="842.00" x2="239.50" y2="842.00" stroke="#0a0a7a" stroke-width="1"/>
<line x1="233.50" y1="852.00" x2="239.50" y2="852.00" stroke="#0a0a7a" stroke-width="1"/>
<line x1="258.00" y1="832.50" x2="258.00" y2="854.50" stroke="#0a0a7a" stroke-width="1"/>
<line x1="255.00" y1="832.50" x2="261.00" y2="832.50" stroke="#0a0a7a" stroke-width="1"/>
<line x1="255.00" y1="854.50" x2="261.00" y2="854.50" stroke="#0a0a7a" stroke-width="1"/>
<line x1="279.00" y1="817.00" x2="279.00" y2="829.00" stroke="#0a0a7a" stroke-width="1"/>
<line x1="276.00" y1="817.00" x2="282.00" y2="817.00" stroke="#0a0a7a" stroke-width="1"/>
<line x1="276.00" y1="829.00" x2="282.00" y2="829.00" stroke="#0a0a7a" stroke-width="1"/>
<line x1="300.50" y1="814.00" x2="300.50" y2="825.70" stroke="#0a0a7a" stroke-width="1"/>
<line x1="297.50" y1="814.00" x2="303.50" y2="814.00" stroke="#0a0a7a" stroke-width="1"/>
<line x1="297.50" y1="825.70" x2="303.50" y2="825.70" stroke="#0a0a7a" stroke-width="1"/>
<line x1="321.70" y1="836.50" x2="321.70" y2="859.00" stroke="#0a0a7a" stroke-width="1"/>
<line x1="318.70" y1="836.50" x2="324.70" y2="836.50" stroke="#0a0a7a" stroke-width="1"/>
<line x1="318.70" y1="859.00" x2="324.70" y2="859.00" stroke="#0a0a7a" stroke-width="1"/>
<rect x="233.25" y="838.75" width="6.50" height="6.50" fill="#1a1aff"/>
<rect x="254.75" y="818.75" width="6.50" height="6.50" fill="#1a1aff"/>
<rect x="275.75" y="809.95" width="6.50" height="6.50" fill="#1a1aff"/>
<rect x="297.25" y="826.95" width="6.50" height="6.50" fill="#1a1aff"/>
<rect x="318.45" y="827.95" width="6.50" height="6.50" fill="#1a1aff"/>
<circle cx="236.50" cy="845.70" r="3.4" fill="#0a0a7a"/>
<circle cx="258.00" cy="844.00" r="3.4" fill="#0a0a7a"/>
<circle cx="279.00" cy="822.00" r="3.4" fill="#0a0a7a"/>
<circle cx="300.50" cy="820.00" r="3.4" fill="#0a0a7a"/>
<circle cx="321.70" cy="845.70" r="3.4" fill="#0a0a7a"/>
<text x="240.30" y="811.40" font-size="8.1" fill="#2424ff">p=0.001</text>
<text x="261.50" y="802.00" font-size="8.1" fill="#2424ff">p=0.0001</text>
<text x="286.00" y="811.40" font-size="8.1" fill="#2424ff">p=0.004</text>
<text x="314.00" y="821.00" font-size="9.8" fill="#2424ff">n.s.</text>
<text x="264.40" y="840.50" font-size="8.1" fill="#1c1c90">p=0.009</text>
<text x="293.30" y="842.00" font-size="9.8" fill="#2424ff">n.s.</text>
<text x="250.30" y="862.90" font-size="9.8" fill="#1c1c90">n.s.</text>
<text x="315.90" y="866.80" font-size="9.8" fill="#1c1c90">n.s.</text>
<line x1="229.00" y1="883.20" x2="246.50" y2="883.20" stroke="#1a1aff" stroke-width="1.2"/>
<rect x="233.95" y="879.95" width="6.50" height="6.50" fill="#1a1aff"/>
<text x="257.20" y="887.50" font-size="11.5">H1299</text>
<line x1="229.00" y1="896.20" x2="246.50" y2="896.20" stroke="#0a0a7a" stroke-width="1.2"/>
<circle cx="237.20" cy="896.20" r="3.4" fill="#0a0a7a"/>
<text x="257.20" y="900.20" font-size="11.5">H460</text>
<text x="239.30" y="915.30" font-size="9.8" text-anchor="end" transform="rotate(-45 239.30 915.30)">0</text>
<text x="260.80" y="915.30" font-size="9.8" text-anchor="end" transform="rotate(-45 260.80 915.30)">0.5</text>
<text x="281.80" y="915.30" font-size="9.8" text-anchor="end" transform="rotate(-45 281.80 915.30)">1</text>
<text x="303.30" y="915.30" font-size="9.8" text-anchor="end" transform="rotate(-45 303.30 915.30)">2</text>
<text x="324.50" y="915.30" font-size="9.8" text-anchor="end" transform="rotate(-45 324.50 915.30)">4</text>
<text x="225.50" y="940.00" font-size="11.7">CDDP/Pem/MEKi (h)</text>
<text x="201.00" y="843.80" font-size="11.45" text-anchor="middle" transform="rotate(-90 201.00 843.80)">% of FLICA1<tspan font-size="8.2" dy="-4.81">+</tspan><tspan dy="4.8"> cells</tspan></text>
<text x="352.40" y="733.70" font-size="22" font-weight="bold">K</text>
<text x="416.20" y="746.20" font-size="11.2">H460</text>
<line x1="410.00" y1="749.20" x2="449.50" y2="749.20" stroke="#000" stroke-width="0.9"/>
<text x="467.00" y="746.20" font-size="11.2">H1299</text>
<line x1="464.50" y1="749.20" x2="505.00" y2="749.20" stroke="#000" stroke-width="0.9"/>
<line x1="401.20" y1="773.20" x2="401.20" y2="905.70" stroke="#000" stroke-width="1"/>
<line x1="396.50" y1="773.20" x2="401.20" y2="773.20" stroke="#000" stroke-width="1"/>
<text x="395.00" y="777.52" font-size="12" text-anchor="end">150</text>
<line x1="396.50" y1="817.50" x2="401.20" y2="817.50" stroke="#000" stroke-width="1"/>
<text x="395.00" y="821.82" font-size="12" text-anchor="end">100</text>
<line x1="396.50" y1="861.50" x2="401.20" y2="861.50" stroke="#000" stroke-width="1"/>
<text x="395.00" y="865.82" font-size="12" text-anchor="end">50</text>
<line x1="396.50" y1="905.70" x2="401.20" y2="905.70" stroke="#000" stroke-width="1"/>
<text x="395.00" y="910.02" font-size="12" text-anchor="end">0</text>
<line x1="401.20" y1="905.70" x2="518.00" y2="905.70" stroke="#000" stroke-width="1"/>
<line x1="409.50" y1="905.70" x2="409.50" y2="908.50" stroke="#000" stroke-width="1"/>
<line x1="436.50" y1="905.70" x2="436.50" y2="908.50" stroke="#000" stroke-width="1"/>
<line x1="466.50" y1="905.70" x2="466.50" y2="908.50" stroke="#000" stroke-width="1"/>
<line x1="492.70" y1="905.70" x2="492.70" y2="908.50" stroke="#000" stroke-width="1"/>
<rect x="464.00" y="768.70" width="8.50" height="8.30" fill="#000"/>
<text x="480.70" y="775.20" font-size="11">-</text>
<rect x="464.00" y="782.50" width="8.50" height="8.20" fill="#0c4e5c"/>
<text x="478.20" y="789.50" font-size="11.2">Anakinra</text>
<rect x="464.00" y="793.00" width="8.50" height="9.00" fill="#0000cc"/>
<text x="478.20" y="801.20" font-size="11.2">YVAD</text>
<rect x="464.00" y="806.20" width="8.50" height="8.80" fill="#800080"/>
<text x="478.20" y="813.70" font-size="11.2">EtBr</text>
<rect x="407.50" y="904.70" width="7.50" height="1.00" fill="#888"/>
<circle cx="409.00" cy="905.00" r="2.2" fill="#888"/>
<circle cx="411.50" cy="904.50" r="2.2" fill="#888"/>
<circle cx="413.50" cy="905.00" r="2.2" fill="#888"/>
<rect x="417.00" y="823.70" width="9.20" height="82.00" fill="#000"/>
<line x1="421.60" y1="823.70" x2="421.60" y2="804.00" stroke="#888" stroke-width="1"/>
<line x1="418.60" y1="804.00" x2="424.60" y2="804.00" stroke="#888" stroke-width="1"/>
<circle cx="421.60" cy="786.00" r="2.2" fill="#888"/>
<circle cx="421.60" cy="817.00" r="2.2" fill="#888"/>
<circle cx="421.60" cy="827.00" r="2.2" fill="#888"/>
<circle cx="419.00" cy="835.00" r="2.2" fill="#888"/>
<circle cx="424.00" cy="836.00" r="2.2" fill="#888"/>
<circle cx="421.00" cy="838.00" r="2.2" fill="#888"/>
<rect x="427.00" y="858.20" width="9.20" height="47.50" fill="#0c4e5c"/>
<line x1="431.60" y1="858.20" x2="431.60" y2="847.00" stroke="#1090a8" stroke-width="1"/>
<line x1="428.60" y1="847.00" x2="434.60" y2="847.00" stroke="#1090a8" stroke-width="1"/>
<circle cx="429.00" cy="846.00" r="2.2" fill="#1090a8"/>
<circle cx="434.00" cy="846.00" r="2.2" fill="#1090a8"/>
<circle cx="431.60" cy="850.00" r="2.2" fill="#1090a8"/>
<circle cx="430.00" cy="863.00" r="2.2" fill="#1090a8"/>
<circle cx="433.00" cy="870.00" r="2.2" fill="#1090a8"/>
<circle cx="431.00" cy="875.00" r="2.2" fill="#1090a8"/>
<rect x="437.00" y="874.00" width="9.50" height="31.70" fill="#0000cc"/>
<line x1="441.70" y1="874.00" x2="441.70" y2="862.00" stroke="#0000aa" stroke-width="1"/>
<line x1="438.70" y1="862.00" x2="444.70" y2="862.00" stroke="#0000aa" stroke-width="1"/>
<circle cx="441.70" cy="835.00" r="2.6" fill="#00009a"/>
<circle cx="441.70" cy="851.00" r="2.6" fill="#00009a"/>
<circle cx="441.70" cy="861.00" r="2.6" fill="#00009a"/>
<circle cx="441.70" cy="870.00" r="2.6" fill="#00009a"/>
<circle cx="441.70" cy="887.00" r="2.6" fill="#00009a"/>
<circle cx="441.70" cy="904.00" r="2.6" fill="#00009a"/>
<rect x="447.00" y="902.00" width="10.00" height="3.70" fill="#600058"/>
<line x1="452.00" y1="902.00" x2="452.00" y2="898.00" stroke="#600058" stroke-width="1"/>
<line x1="449.00" y1="898.00" x2="455.00" y2="898.00" stroke="#600058" stroke-width="1"/>
<circle cx="452.00" cy="895.00" r="2.6" fill="#600058"/>
<circle cx="449.00" cy="902.00" r="2.6" fill="#600058"/>
<circle cx="452.00" cy="904.00" r="2.6" fill="#600058"/>
<circle cx="455.00" cy="902.00" r="2.6" fill="#600058"/>
<circle cx="449.00" cy="905.00" r="2.6" fill="#600058"/>
<circle cx="455.00" cy="905.00" r="2.6" fill="#600058"/>
<rect x="464.00" y="904.70" width="7.50" height="1.00" fill="#888"/>
<circle cx="465.00" cy="905.00" r="2.2" fill="#888"/>
<circle cx="467.70" cy="903.50" r="2.2" fill="#888"/>
<circle cx="470.00" cy="905.00" r="2.2" fill="#888"/>
<rect x="472.70" y="862.50" width="9.80" height="43.20" fill="#000"/>
<line x1="477.60" y1="862.50" x2="477.60" y2="852.50" stroke="#888" stroke-width="1"/>
<line x1="474.60" y1="852.50" x2="480.60" y2="852.50" stroke="#888" stroke-width="1"/>
<circle cx="474.00" cy="853.00" r="2.2" fill="#888"/>
<circle cx="477.60" cy="853.00" r="2.2" fill="#888"/>
<circle cx="478.00" cy="865.00" r="2.2" fill="#888"/>
<circle cx="478.00" cy="876.00" r="2.2" fill="#888"/>
<rect x="483.20" y="897.00" width="9.30" height="8.70" fill="#0c4e5c"/>
<line x1="487.80" y1="897.00" x2="487.80" y2="887.00" stroke="#1090a8" stroke-width="1"/>
<line x1="484.80" y1="887.00" x2="490.80" y2="887.00" stroke="#1090a8" stroke-width="1"/>
<circle cx="487.80" cy="882.00" r="2.2" fill="#1090a8"/>
<circle cx="487.80" cy="890.00" r="2.2" fill="#1090a8"/>
<circle cx="485.00" cy="905.00" r="2.2" fill="#1090a8"/>
<circle cx="490.00" cy="905.00" r="2.2" fill="#1090a8"/>
<rect x="492.70" y="899.50" width="9.80" height="6.20" fill="#0000cc"/>
<circle cx="495.80" cy="891.80" r="2.8" fill="#00009a"/>
<circle cx="500.10" cy="896.20" r="2.8" fill="#00009a"/>
<circle cx="496.00" cy="902.00" r="2.8" fill="#00009a"/>
<circle cx="500.00" cy="904.00" r="2.8" fill="#00009a"/>
<rect x="503.20" y="902.00" width="9.50" height="3.70" fill="#600058"/>
<circle cx="506.00" cy="903.00" r="2.8" fill="#600058"/>
<circle cx="509.00" cy="902.00" r="2.8" fill="#600058"/>
<circle cx="511.50" cy="903.50" r="2.8" fill="#600058"/>
<text x="424.00" y="762.50" font-size="7.8">p&lt;0.0001</text>
<line x1="424.00" y1="764.50" x2="457.00" y2="764.50" stroke="#000" stroke-width="0.8"/>
<text x="420.00" y="771.20" font-size="7.8">p=0.006</text>
<line x1="425.00" y1="772.80" x2="440.00" y2="772.80" stroke="#000" stroke-width="0.8"/>
<text x="418.20" y="780.50" font-size="7.8">p=0.041</text>
<line x1="423.00" y1="782.00" x2="432.00" y2="782.00" stroke="#000" stroke-width="0.8"/>
<text x="477.50" y="830.00" font-size="7.8">p=0.094</text>
<line x1="477.50" y1="831.80" x2="506.50" y2="831.80" stroke="#000" stroke-width="0.8"/>
<text x="474.50" y="838.70" font-size="7.8">p=0.048</text>
<line x1="477.00" y1="840.50" x2="495.00" y2="840.50" stroke="#000" stroke-width="0.8"/>
<text x="472.50" y="847.50" font-size="7.8">p=0.018</text>
<line x1="476.00" y1="849.30" x2="486.00" y2="849.30" stroke="#000" stroke-width="0.8"/>
<line x1="420.00" y1="911.20" x2="452.70" y2="911.20" stroke="#000" stroke-width="0.8"/>
<line x1="476.50" y1="911.20" x2="509.50" y2="911.20" stroke="#000" stroke-width="0.8"/>
<text x="409.50" y="922.90" font-size="11" text-anchor="middle">-</text>
<text x="436.50" y="922.90" font-size="11" text-anchor="middle">+</text>
<text x="466.50" y="922.90" font-size="11" text-anchor="middle">-</text>
<text x="492.70" y="922.90" font-size="11" text-anchor="middle">+</text>
<text x="415.00" y="939.50" font-size="11.6">CDDP/Pem/MEKi</text>
<text x="372.50" y="838.50" font-size="11.7" text-anchor="middle" transform="rotate(-90 372.50 838.50)"><tspan font-style="italic">CXCL10/ACTB</tspan> mRNA</text>
<text x="532.40" y="733.70" font-size="22" font-weight="bold">L</text>
<rect x="576.40" y="741.90" width="9.50" height="8.90" fill="#000"/>
<text x="589.70" y="750.00" font-size="11.2">siCo</text>
<rect x="620.20" y="741.90" width="8.80" height="8.90" fill="#800080"/>
<text x="632.90" y="750.00" font-size="11.2">si<tspan font-style="italic">AIM2</tspan></text>
<text x="588.60" y="773.50" font-size="11.2">H460</text>
<line x1="587.00" y1="777.00" x2="617.50" y2="777.00" stroke="#000" stroke-width="0.9"/>
<text x="633.70" y="773.50" font-size="11.2">H1299</text>
<line x1="634.50" y1="777.00" x2="664.70" y2="777.00" stroke="#000" stroke-width="0.9"/>
<line x1="574.00" y1="775.00" x2="574.00" y2="907.70" stroke="#000" stroke-width="1"/>
<line x1="569.30" y1="775.00" x2="574.00" y2="775.00" stroke="#000" stroke-width="1"/>
<text x="567.80" y="779.32" font-size="12" text-anchor="end">40</text>
<line x1="569.30" y1="808.20" x2="574.00" y2="808.20" stroke="#000" stroke-width="1"/>
<text x="567.80" y="812.52" font-size="12" text-anchor="end">30</text>
<line x1="569.30" y1="841.50" x2="574.00" y2="841.50" stroke="#000" stroke-width="1"/>
<text x="567.80" y="845.82" font-size="12" text-anchor="end">20</text>
<line x1="569.30" y1="874.50" x2="574.00" y2="874.50" stroke="#000" stroke-width="1"/>
<text x="567.80" y="878.82" font-size="12" text-anchor="end">10</text>
<line x1="569.30" y1="907.70" x2="574.00" y2="907.70" stroke="#000" stroke-width="1"/>
<text x="567.80" y="912.02" font-size="12" text-anchor="end">0</text>
<line x1="574.00" y1="907.70" x2="674.00" y2="907.70" stroke="#000" stroke-width="1"/>
<line x1="588.20" y1="907.70" x2="588.20" y2="910.50" stroke="#000" stroke-width="1"/>
<line x1="612.20" y1="907.70" x2="612.20" y2="910.50" stroke="#000" stroke-width="1"/>
<line x1="636.00" y1="907.70" x2="636.00" y2="910.50" stroke="#000" stroke-width="1"/>
<line x1="660.20" y1="907.70" x2="660.20" y2="910.50" stroke="#000" stroke-width="1"/>
<rect x="579.50" y="903.70" width="8.20" height="4.00" fill="#888"/>
<circle cx="581.00" cy="904.00" r="2.2" fill="#888"/>
<circle cx="583.50" cy="903.00" r="2.2" fill="#888"/>
<circle cx="586.00" cy="904.00" r="2.2" fill="#888"/>
<circle cx="582.00" cy="906.00" r="2.2" fill="#888"/>
<circle cx="585.00" cy="906.00" r="2.2" fill="#888"/>
<rect x="588.50" y="902.70" width="9.20" height="5.00" fill="#800080"/>
<circle cx="590.00" cy="904.00" r="2.2" fill="#800070"/>
<circle cx="593.00" cy="901.00" r="2.2" fill="#800070"/>
<circle cx="596.00" cy="904.00" r="2.2" fill="#800070"/>
<circle cx="591.00" cy="906.00" r="2.2" fill="#800070"/>
<circle cx="595.00" cy="906.00" r="2.2" fill="#800070"/>
<rect x="603.20" y="844.50" width="9.00" height="63.20" fill="#000"/>
<line x1="607.70" y1="844.50" x2="607.70" y2="808.00" stroke="#000" stroke-width="1"/>
<line x1="604.70" y1="808.00" x2="610.70" y2="808.00" stroke="#000" stroke-width="1"/>
<circle cx="607.70" cy="797.50" r="2.2" fill="#888"/>
<circle cx="607.70" cy="838.00" r="2.2" fill="#888"/>
<circle cx="605.00" cy="844.00" r="2.2" fill="#888"/>
<circle cx="610.00" cy="844.00" r="2.2" fill="#888"/>
<circle cx="606.00" cy="880.00" r="2.2" fill="#888"/>
<circle cx="609.00" cy="880.00" r="2.2" fill="#888"/>
<circle cx="607.70" cy="890.00" r="2.2" fill="#888"/>
<rect x="612.70" y="903.00" width="9.30" height="4.70" fill="#800080"/>
<circle cx="614.00" cy="905.00" r="2.2" fill="#800070"/>
<circle cx="617.00" cy="902.00" r="2.2" fill="#800070"/>
<circle cx="620.00" cy="905.00" r="2.2" fill="#800070"/>
<circle cx="616.00" cy="907.00" r="2.2" fill="#800070"/>
<rect x="627.70" y="904.00" width="8.30" height="3.70" fill="#888"/>
<circle cx="629.00" cy="905.00" r="2.2" fill="#888"/>
<circle cx="632.00" cy="901.00" r="2.2" fill="#888"/>
<circle cx="635.00" cy="905.00" r="2.2" fill="#888"/>
<circle cx="631.00" cy="907.00" r="2.2" fill="#888"/>
<rect x="636.50" y="904.00" width="9.20" height="3.70" fill="#800080"/>
<circle cx="638.00" cy="905.00" r="2.2" fill="#800070"/>
<circle cx="641.00" cy="901.00" r="2.2" fill="#800070"/>
<circle cx="644.00" cy="905.00" r="2.2" fill="#800070"/>
<circle cx="640.00" cy="907.00" r="2.2" fill="#800070"/>
<rect x="651.00" y="835.70" width="9.20" height="72.00" fill="#000"/>
<line x1="655.60" y1="835.70" x2="655.60" y2="809.50" stroke="#000" stroke-width="1"/>
<line x1="652.60" y1="809.50" x2="658.60" y2="809.50" stroke="#000" stroke-width="1"/>
<circle cx="655.60" cy="793.00" r="2.2" fill="#888"/>
<circle cx="653.00" cy="801.00" r="2.2" fill="#888"/>
<circle cx="658.00" cy="800.00" r="2.2" fill="#888"/>
<circle cx="655.60" cy="826.00" r="2.2" fill="#888"/>
<circle cx="655.60" cy="832.00" r="2.2" fill="#888"/>
<circle cx="653.00" cy="837.00" r="2.2" fill="#888"/>
<circle cx="658.00" cy="836.00" r="2.2" fill="#888"/>
<circle cx="655.00" cy="852.00" r="2.2" fill="#888"/>
<circle cx="655.00" cy="860.00" r="2.2" fill="#888"/>
<circle cx="655.00" cy="872.00" r="2.2" fill="#888"/>
<rect x="661.00" y="887.50" width="9.20" height="20.20" fill="#800080"/>
<line x1="665.60" y1="887.50" x2="665.60" y2="879.50" stroke="#800070" stroke-width="1"/>
<line x1="662.60" y1="879.50" x2="668.60" y2="879.50" stroke="#800070" stroke-width="1"/>
<circle cx="663.00" cy="865.00" r="2.2" fill="#800070"/>
<circle cx="667.00" cy="868.00" r="2.2" fill="#800070"/>
<circle cx="665.60" cy="876.00" r="2.2" fill="#800070"/>
<circle cx="665.60" cy="882.00" r="2.2" fill="#800070"/>
<circle cx="663.00" cy="888.00" r="2.2" fill="#800070"/>
<circle cx="668.00" cy="889.00" r="2.2" fill="#800070"/>
<circle cx="665.00" cy="898.00" r="2.2" fill="#800070"/>
<circle cx="665.00" cy="905.00" r="2.2" fill="#800070"/>
<text x="595.90" y="789.70" font-size="7.8">p&lt;0.0001</text>
<line x1="608.00" y1="791.30" x2="618.80" y2="791.30" stroke="#000" stroke-width="0.8"/>
<text x="644.50" y="786.40" font-size="7.8">p&lt;0.0001</text>
<line x1="656.00" y1="787.80" x2="666.00" y2="787.80" stroke="#000" stroke-width="0.8"/>
<text x="588.20" y="924.40" font-size="11" text-anchor="middle">-</text>
<text x="612.20" y="924.40" font-size="11" text-anchor="middle">+</text>
<text x="636.00" y="924.40" font-size="11" text-anchor="middle">-</text>
<text x="660.20" y="924.40" font-size="11" text-anchor="middle">+</text>
<text x="580.20" y="939.00" font-size="11.6">CDDP/Pem/MEKi</text>
<text x="551.50" y="841.20" font-size="11.65" text-anchor="middle" transform="rotate(-90 551.50 841.20)"><tspan font-style="italic">CXCL10/ACTB</tspan> mRNA</text>
</svg></body></html>
